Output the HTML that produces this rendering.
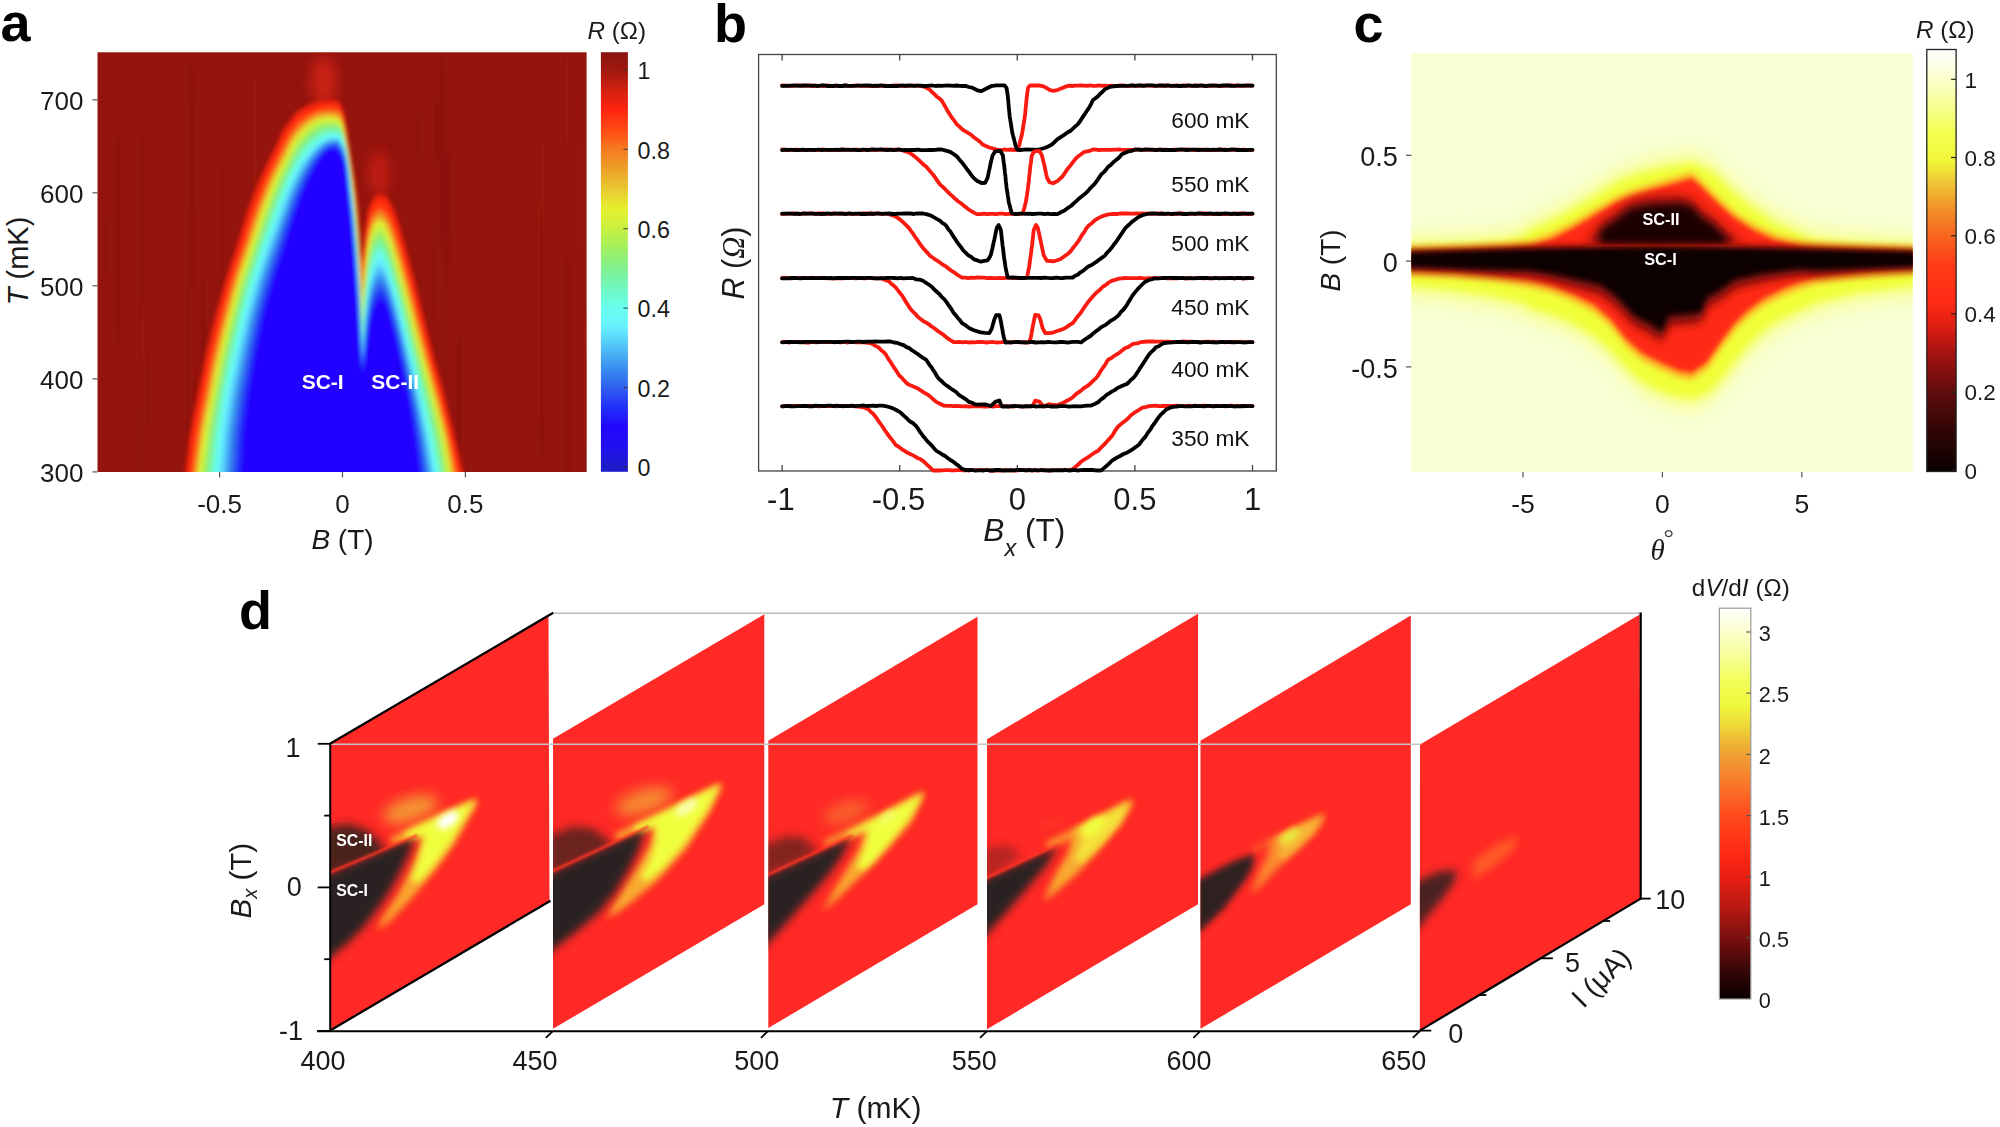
<!DOCTYPE html>
<html lang="en"><head><meta charset="utf-8"><title>Figure</title>
<style>
html,body{margin:0;padding:0;background:#fff;}
svg{display:block;font-family:'Liberation Sans', Arial, sans-serif;}
</style></head><body>
<svg width="2000" height="1127" viewBox="0 0 2000 1127">
<defs>
<clipPath id="clipA"><rect x="97.5" y="52.3" width="489.1" height="419.7"/></clipPath>
<filter id="blA" x="-10%" y="-10%" width="120%" height="120%"><feGaussianBlur stdDeviation="2.2"/></filter>
<filter id="blA1" x="-5%" y="-5%" width="110%" height="110%"><feGaussianBlur stdDeviation="1.2 6"/></filter>
<filter id="blA2" x="-30%" y="-30%" width="160%" height="160%"><feGaussianBlur stdDeviation="7"/></filter>
<linearGradient id="gradA" x1="0" y1="0" x2="0" y2="1"><stop offset="0.0043" stop-color="#8c1410"/><stop offset="0.0422" stop-color="#a01810"/><stop offset="0.0895" stop-color="#d02010"/><stop offset="0.1368" stop-color="#ff2410"/><stop offset="0.1841" stop-color="#ff4a14"/><stop offset="0.2314" stop-color="#f57a20"/><stop offset="0.2787" stop-color="#eda028"/><stop offset="0.3260" stop-color="#e8c830"/><stop offset="0.3733" stop-color="#e6f030"/><stop offset="0.4206" stop-color="#c8f040"/><stop offset="0.4679" stop-color="#a0f060"/><stop offset="0.5153" stop-color="#80f090"/><stop offset="0.5626" stop-color="#70f8c0"/><stop offset="0.6099" stop-color="#68fff0"/><stop offset="0.6572" stop-color="#66f0ff"/><stop offset="0.7045" stop-color="#50c0f8"/><stop offset="0.7518" stop-color="#3890f0"/><stop offset="0.7991" stop-color="#3060f0"/><stop offset="0.8464" stop-color="#2030f8"/><stop offset="0.8937" stop-color="#2206ff"/><stop offset="0.9410" stop-color="#2010f0"/><stop offset="0.9883" stop-color="#1c1cc8"/></linearGradient>
<clipPath id="clipC"><rect x="1411.4" y="53.2" width="501.3" height="418.8"/></clipPath>
<filter id="blC0" x="-10%" y="-30%" width="120%" height="160%"><feGaussianBlur stdDeviation="8"/></filter>
<filter id="blC1" x="-10%" y="-30%" width="120%" height="160%"><feGaussianBlur stdDeviation="4.5"/></filter>
<filter id="blC5" x="-10%" y="-30%" width="120%" height="160%"><feGaussianBlur stdDeviation="5"/></filter>
<filter id="blC6" x="-10%" y="-30%" width="120%" height="160%"><feGaussianBlur stdDeviation="2.4"/></filter>
<filter id="blC7" x="-10%" y="-300%" width="120%" height="700%"><feGaussianBlur stdDeviation="0.8"/></filter>
<filter id="blC2" x="-10%" y="-30%" width="120%" height="160%"><feGaussianBlur stdDeviation="3"/></filter>
<filter id="blC3" x="-10%" y="-30%" width="120%" height="160%"><feGaussianBlur stdDeviation="2.2"/></filter>
<filter id="blC4" x="-10%" y="-30%" width="120%" height="160%"><feGaussianBlur stdDeviation="1.6"/></filter>
<linearGradient id="gradC" x1="0" y1="0" x2="0" y2="1"><stop offset="0.0002" stop-color="#ffffff"/><stop offset="0.0706" stop-color="#faffcc"/><stop offset="0.1355" stop-color="#f6ff90"/><stop offset="0.2003" stop-color="#f2ff4c"/><stop offset="0.2652" stop-color="#f0f63a"/><stop offset="0.3115" stop-color="#eec834"/><stop offset="0.3671" stop-color="#f09a2a"/><stop offset="0.4412" stop-color="#f8641e"/><stop offset="0.5154" stop-color="#ff3a16"/><stop offset="0.5987" stop-color="#ff2a14"/><stop offset="0.6543" stop-color="#e01e12"/><stop offset="0.7192" stop-color="#a41410"/><stop offset="0.8118" stop-color="#600c0c"/><stop offset="0.9045" stop-color="#300606"/><stop offset="0.9972" stop-color="#0c0000"/></linearGradient>
<filter id="dB2" x="-40%" y="-40%" width="180%" height="180%"><feGaussianBlur stdDeviation="2.2"/></filter>
<filter id="dB4" x="-40%" y="-40%" width="180%" height="180%"><feGaussianBlur stdDeviation="4.0"/></filter>
<filter id="dB3" x="-40%" y="-40%" width="180%" height="180%"><feGaussianBlur stdDeviation="3.2"/></filter>
<filter id="dB5" x="-40%" y="-40%" width="180%" height="180%"><feGaussianBlur stdDeviation="5"/></filter>
<filter id="dB7" x="-40%" y="-40%" width="180%" height="180%"><feGaussianBlur stdDeviation="7"/></filter>
<filter id="dB1" x="-40%" y="-40%" width="180%" height="180%"><feGaussianBlur stdDeviation="1.2"/></filter>
<clipPath id="clipD0"><polygon points="330.4,743.5 548.5,614.6 549.5,901.3 330.2,1030.5"/></clipPath>
<clipPath id="clipDb0"><polygon points="268.5,898.7 716.3,707.4 716.3,1200.0 268.5,1200.0"/></clipPath>
<clipPath id="clipDa0"><polygon points="268.5,898.7 716.3,707.4 716.3,500.0 268.5,500.0"/></clipPath>
<clipPath id="clipD1"><polygon points="553.0,738.8 764.3,614.3 764.3,904.3 553.0,1028.8"/></clipPath>
<clipPath id="clipDb1"><polygon points="491.4,899.6 947.6,686.6 947.6,1200.0 491.4,1200.0"/></clipPath>
<clipPath id="clipDa1"><polygon points="491.4,899.6 947.6,686.6 947.6,500.0 491.4,500.0"/></clipPath>
<clipPath id="clipD2"><polygon points="768.3,740.8 977.5,616.8 977.5,904.3 768.3,1028.0"/></clipPath>
<clipPath id="clipDb2"><polygon points="706.4,903.0 1152.0,696.8 1152.0,1200.0 706.4,1200.0"/></clipPath>
<clipPath id="clipDa2"><polygon points="706.4,903.0 1152.0,696.8 1152.0,500.0 706.4,500.0"/></clipPath>
<clipPath id="clipD3"><polygon points="987.0,739.3 1198.0,613.8 1198.0,904.3 987.0,1029.3"/></clipPath>
<clipPath id="clipDb3"><polygon points="925.3,906.2 1357.1,706.3 1357.1,1200.0 925.3,1200.0"/></clipPath>
<clipPath id="clipDa3"><polygon points="925.3,906.2 1357.1,706.3 1357.1,500.0 925.3,500.0"/></clipPath>
<clipPath id="clipD4"><polygon points="1200.5,740.8 1410.8,615.5 1410.8,904.3 1200.5,1028.8"/></clipPath>
<clipPath id="clipD5"><polygon points="1420.0,744.4 1639.7,614.5 1640.5,898.8 1419.8,1030.3"/></clipPath>
<linearGradient id="gradD" x1="0" y1="0" x2="0" y2="1"><stop offset="0.0000" stop-color="#ffffff"/><stop offset="0.0608" stop-color="#fbffcc"/><stop offset="0.1234" stop-color="#f7ff98"/><stop offset="0.1860" stop-color="#f2ff58"/><stop offset="0.2486" stop-color="#f0f83c"/><stop offset="0.3112" stop-color="#eed038"/><stop offset="0.3738" stop-color="#f0a032"/><stop offset="0.4521" stop-color="#f8762a"/><stop offset="0.5304" stop-color="#ff4a1c"/><stop offset="0.6243" stop-color="#ff2a14"/><stop offset="0.6869" stop-color="#e81e10"/><stop offset="0.7652" stop-color="#b81a12"/><stop offset="0.8435" stop-color="#7a100e"/><stop offset="0.9217" stop-color="#3a0606"/><stop offset="1.0000" stop-color="#0a0000"/></linearGradient>
</defs>
<rect x="0" y="0" width="2000" height="1127" fill="#ffffff"/>
<g id="panel-a">
<rect x="97.5" y="52.3" width="489.1" height="419.7" fill="#94140e"/>
<g clip-path="url(#clipA)" filter="url(#blA1)">
<rect x="318.8" y="384.7" width="2.1" height="148" fill="#5a0806" opacity="0.17"/>
<rect x="187.8" y="278.9" width="2.0" height="217" fill="#5a0806" opacity="0.14"/>
<rect x="141.8" y="301.7" width="2.6" height="59" fill="#c02818" opacity="0.22"/>
<rect x="417.3" y="109.0" width="2.2" height="53" fill="#5a0806" opacity="0.11"/>
<rect x="190.5" y="63.1" width="1.5" height="147" fill="#5a0806" opacity="0.20"/>
<rect x="351.4" y="232.1" width="2.3" height="189" fill="#5a0806" opacity="0.13"/>
<rect x="585.5" y="354.5" width="3.0" height="199" fill="#5a0806" opacity="0.13"/>
<rect x="238.9" y="327.9" width="1.1" height="134" fill="#c02818" opacity="0.15"/>
<rect x="566.1" y="52.5" width="2.7" height="94" fill="#c02818" opacity="0.16"/>
<rect x="577.0" y="78.6" width="1.8" height="182" fill="#c02818" opacity="0.13"/>
<rect x="140.1" y="399.1" width="1.7" height="209" fill="#5a0806" opacity="0.13"/>
<rect x="146.9" y="339.0" width="1.1" height="87" fill="#5a0806" opacity="0.15"/>
<rect x="190.8" y="99.4" width="2.5" height="185" fill="#5a0806" opacity="0.15"/>
<rect x="201.6" y="401.5" width="1.5" height="219" fill="#5a0806" opacity="0.21"/>
<rect x="200.6" y="359.6" width="1.8" height="185" fill="#5a0806" opacity="0.22"/>
<rect x="201.8" y="330.2" width="1.5" height="119" fill="#5a0806" opacity="0.11"/>
<rect x="141.6" y="139.7" width="2.2" height="176" fill="#5a0806" opacity="0.15"/>
<rect x="566.6" y="259.0" width="2.0" height="232" fill="#5a0806" opacity="0.12"/>
<rect x="541.8" y="142.0" width="2.6" height="90" fill="#c02818" opacity="0.21"/>
<rect x="193.7" y="369.6" width="2.9" height="177" fill="#5a0806" opacity="0.11"/>
<rect x="116.4" y="138.1" width="2.9" height="198" fill="#5a0806" opacity="0.20"/>
<rect x="389.2" y="115.4" width="1.6" height="201" fill="#5a0806" opacity="0.13"/>
<rect x="371.1" y="273.3" width="2.7" height="109" fill="#c02818" opacity="0.12"/>
<rect x="105.6" y="212.6" width="1.5" height="63" fill="#5a0806" opacity="0.14"/>
<rect x="377.3" y="182.6" width="1.3" height="237" fill="#c02818" opacity="0.18"/>
<rect x="435.6" y="102.8" width="2.2" height="57" fill="#5a0806" opacity="0.21"/>
<rect x="440.3" y="59.9" width="2.9" height="184" fill="#5a0806" opacity="0.19"/>
<rect x="253.5" y="79.4" width="3.0" height="165" fill="#c02818" opacity="0.21"/>
<rect x="458.0" y="337.6" width="2.4" height="242" fill="#5a0806" opacity="0.18"/>
<rect x="538.1" y="202.3" width="2.7" height="216" fill="#c02818" opacity="0.17"/>
<rect x="403.2" y="261.9" width="1.8" height="178" fill="#5a0806" opacity="0.18"/>
<rect x="583.3" y="314.2" width="2.8" height="132" fill="#c02818" opacity="0.17"/>
<rect x="313.0" y="82.4" width="2.7" height="208" fill="#5a0806" opacity="0.17"/>
<rect x="332.7" y="303.5" width="1.5" height="154" fill="#5a0806" opacity="0.21"/>
<rect x="222.6" y="160.6" width="1.0" height="192" fill="#5a0806" opacity="0.12"/>
<rect x="540.5" y="211.3" width="2.3" height="237" fill="#5a0806" opacity="0.18"/>
<rect x="194.6" y="342.2" width="1.9" height="242" fill="#c02818" opacity="0.15"/>
<rect x="382.7" y="101.3" width="1.6" height="154" fill="#c02818" opacity="0.20"/>
<rect x="445.4" y="151.9" width="2.9" height="86" fill="#5a0806" opacity="0.13"/>
<rect x="202.2" y="277.4" width="1.8" height="154" fill="#5a0806" opacity="0.20"/>
<rect x="577.8" y="79.2" width="1.9" height="57" fill="#c02818" opacity="0.10"/>
<rect x="444.1" y="163.5" width="2.1" height="216" fill="#5a0806" opacity="0.12"/>
<rect x="320.0" y="350.7" width="1.0" height="100" fill="#5a0806" opacity="0.11"/>
<rect x="405.2" y="278.9" width="1.9" height="188" fill="#c02818" opacity="0.22"/>
<rect x="432.3" y="223.2" width="1.4" height="88" fill="#5a0806" opacity="0.16"/>
<rect x="446.8" y="150.3" width="1.4" height="123" fill="#5a0806" opacity="0.16"/>
</g>
<g clip-path="url(#clipA)">
<g filter="url(#blA2)" opacity="0.8">
<ellipse cx="323.7" cy="82.4" rx="13.0" ry="26.7" fill="#d82616"/>
<ellipse cx="379.0" cy="174.0" rx="9.9" ry="22.9" fill="#d02414"/>
</g>
<g filter="url(#blA)">
<polygon points="183.6,481.3 185.3,470.3 186.7,459.2 188.0,448.1 189.4,437.1 191.2,426.1 193.4,415.1 195.6,404.2 197.8,393.3 199.9,382.3 202.1,371.4 204.3,360.4 206.8,349.6 209.5,338.7 212.2,327.9 214.9,317.1 217.9,306.4 220.9,295.6 223.9,284.9 227.2,274.2 230.8,263.6 234.3,253.1 237.7,242.4 240.9,231.8 244.1,221.1 247.3,210.4 251.3,200.0 255.4,189.6 259.4,179.2 264.1,169.1 269.1,159.1 274.0,149.1 278.6,139.0 283.3,128.8 290.0,119.9 296.9,111.1 306.6,105.6 316.9,101.8 327.8,99.8 338.9,100.8 338.9,100.8 342.3,107.2 344.4,114.0 345.4,121.1 346.4,128.3 347.4,135.4 348.4,142.6 349.6,149.7 350.7,156.8 351.9,164.0 353.0,171.1 354.2,178.2 355.3,185.3 356.2,192.5 357.0,199.7 357.8,206.9 358.4,214.1 358.9,221.3 359.4,228.5 359.9,235.7 360.3,242.9 360.8,250.1 361.3,257.3 361.8,264.5 361.8,264.5 362.3,258.7 362.9,252.9 363.4,247.1 363.9,241.2 364.4,235.4 365.0,229.6 365.8,223.8 366.6,218.1 367.5,212.3 368.9,206.7 371.1,201.2 374.4,196.7 379.0,193.1 379.0,193.1 387.1,196.4 391.5,203.5 395.0,211.5 397.8,219.7 400.2,228.1 402.6,236.5 404.9,244.8 407.3,253.2 409.6,261.6 411.9,270.0 414.2,278.5 416.3,286.9 418.4,295.4 420.5,303.8 422.6,312.3 424.7,320.7 426.9,329.2 429.0,337.7 431.1,346.1 433.3,354.5 435.6,362.9 437.9,371.3 440.3,379.7 442.6,388.2 444.7,396.6 446.8,405.1 448.9,413.5 451.0,422.0 453.1,430.4 455.2,438.9 457.4,447.3 459.4,455.8 461.3,464.3 463.2,472.8 465.3,481.3" fill="#e32210"/>
<polygon points="185.7,481.3 187.3,470.4 188.7,459.4 190.1,448.4 191.5,437.5 193.2,426.6 195.4,415.7 197.6,404.9 199.7,394.0 201.9,383.2 204.1,372.3 206.2,361.5 208.7,350.7 211.3,340.0 214.0,329.3 216.7,318.5 219.6,307.9 222.6,297.2 225.6,286.6 228.7,276.0 232.2,265.5 235.8,255.0 239.1,244.5 242.4,233.9 245.6,223.4 248.8,212.8 252.8,202.5 256.7,192.1 260.7,181.8 265.3,171.8 270.1,161.8 275.0,151.9 279.7,141.9 284.3,131.9 290.8,122.9 297.6,114.2 307.0,108.5 317.1,104.4 327.9,102.5 338.9,103.5 338.9,103.5 342.4,110.1 344.4,117.1 345.5,124.5 346.6,131.8 347.7,139.2 348.8,146.5 349.9,153.9 351.1,161.2 352.2,168.6 353.3,175.9 354.4,183.3 355.5,190.6 356.4,198.0 357.1,205.4 357.9,212.8 358.5,220.2 359.0,227.6 359.5,235.0 360.0,242.5 360.4,249.9 360.9,257.3 361.4,264.7 361.9,272.1 361.9,272.1 362.4,266.1 362.9,260.0 363.4,254.0 363.9,247.9 364.4,241.8 365.0,235.8 365.8,229.8 366.7,223.7 367.5,217.7 369.0,211.8 371.1,206.1 374.3,201.2 379.0,197.4 379.0,197.4 386.8,200.8 390.9,208.0 394.4,215.8 397.1,223.9 399.5,232.2 401.8,240.4 404.1,248.7 406.4,256.9 408.7,265.2 411.0,273.5 413.2,281.7 415.3,290.1 417.4,298.4 419.5,306.7 421.6,315.0 423.7,323.3 425.8,331.6 427.9,339.9 430.0,348.3 432.2,356.5 434.5,364.8 436.8,373.1 439.1,381.3 441.3,389.6 443.4,397.9 445.5,406.2 447.6,414.6 449.7,422.9 451.7,431.2 453.7,439.5 455.7,447.9 457.7,456.2 459.5,464.6 461.4,473.0 463.3,481.3" fill="#ff2c11"/>
<polygon points="189.6,481.3 191.1,470.5 192.5,459.8 194.0,449.0 195.4,438.2 197.1,427.5 199.2,416.8 201.3,406.2 203.5,395.5 205.6,384.8 207.7,374.2 209.9,363.5 212.2,352.9 214.8,342.3 217.4,331.8 220.0,321.2 222.9,310.7 225.7,300.3 228.6,289.8 231.7,279.4 235.0,269.0 238.5,258.7 241.9,248.4 245.2,238.0 248.4,227.7 251.7,217.3 255.4,207.1 259.3,196.9 263.2,186.8 267.4,176.8 272.1,167.0 276.9,157.2 281.6,147.4 286.2,137.6 292.2,128.6 299.0,120.1 307.8,113.9 317.5,109.4 328.2,107.5 338.9,108.8 338.9,108.8 342.6,115.6 344.6,123.1 345.9,130.8 347.1,138.6 348.3,146.3 349.5,154.1 350.6,161.8 351.7,169.6 352.8,177.3 353.8,185.1 354.8,192.8 355.9,200.6 356.7,208.4 357.4,216.2 358.1,224.0 358.7,231.8 359.2,239.6 359.7,247.4 360.2,255.3 360.6,263.1 361.0,270.9 361.5,278.7 362.0,286.6 362.0,286.6 362.4,280.0 362.9,273.5 363.3,267.0 363.8,260.4 364.4,253.9 365.1,247.4 365.9,240.9 366.7,234.4 367.6,227.9 369.2,221.6 371.3,215.4 374.1,209.8 379.0,205.5 379.0,205.5 386.3,209.2 390.0,216.4 393.2,224.1 395.8,231.9 398.1,239.9 400.4,247.9 402.7,255.9 404.9,263.9 407.1,271.9 409.3,279.9 411.5,287.9 413.5,296.0 415.5,304.0 417.6,312.1 419.6,320.1 421.7,328.2 423.8,336.2 425.9,344.3 427.9,352.3 430.1,360.3 432.3,368.3 434.5,376.3 436.8,384.3 438.9,392.3 441.0,400.4 443.0,408.5 445.1,416.5 447.1,424.6 449.1,432.6 450.9,440.7 452.7,448.8 454.5,456.9 456.2,465.1 457.9,473.2 459.7,481.3" fill="#ff4a14"/>
<polygon points="191.7,481.3 193.2,470.6 194.6,460.0 196.0,449.3 197.5,438.6 199.1,428.0 201.3,417.4 203.4,406.8 205.5,396.3 207.6,385.7 209.7,375.2 211.8,364.6 214.1,354.1 216.6,343.6 219.2,333.1 221.8,322.7 224.6,312.3 227.4,301.9 230.3,291.5 233.3,281.2 236.4,270.9 239.9,260.7 243.4,250.5 246.7,240.2 250.0,230.0 253.2,219.7 256.8,209.6 260.6,199.5 264.5,189.4 268.6,179.5 273.2,169.7 277.9,160.1 282.6,150.4 287.3,140.7 292.9,131.6 299.7,123.2 308.2,116.8 317.7,112.0 328.3,110.2 338.9,111.6 338.9,111.6 342.7,118.6 344.6,126.3 346.0,134.2 347.3,142.2 348.6,150.1 349.8,158.1 350.9,166.0 352.0,174.0 353.1,182.0 354.1,190.0 355.1,198.0 356.0,205.9 356.9,213.9 357.5,222.0 358.2,230.0 358.8,238.0 359.3,246.0 359.9,254.1 360.3,262.1 360.7,270.1 361.1,278.2 361.6,286.2 362.0,294.2 362.0,294.2 362.5,287.5 362.9,280.7 363.3,273.9 363.8,267.1 364.4,260.4 365.1,253.6 365.9,246.9 366.8,240.1 367.7,233.4 369.4,226.8 371.3,220.3 374.0,214.3 379.0,209.8 379.0,209.8 386.0,213.7 389.4,220.9 392.5,228.5 395.1,236.2 397.4,244.0 399.7,251.9 401.9,259.7 404.1,267.6 406.2,275.5 408.4,283.3 410.5,291.2 412.5,299.1 414.5,307.1 416.5,315.0 418.5,322.9 420.6,330.8 422.7,338.7 424.8,346.6 426.9,354.5 429.0,362.3 431.2,370.2 433.3,378.1 435.5,385.9 437.7,393.8 439.7,401.7 441.7,409.6 443.7,417.5 445.7,425.5 447.7,433.4 449.4,441.4 451.1,449.3 452.8,457.3 454.4,465.3 456.0,473.3 457.8,481.3" fill="#f7701e"/>
<polygon points="193.2,481.3 194.6,470.7 196.1,460.1 197.5,449.5 198.9,438.9 200.6,428.3 202.7,417.8 204.8,407.3 206.9,396.8 209.0,386.3 211.1,375.8 213.2,365.4 215.4,354.9 217.9,344.5 220.5,334.1 223.1,323.7 225.8,313.4 228.6,303.0 231.4,292.7 234.4,282.4 237.5,272.2 241.0,262.1 244.4,251.9 247.8,241.8 251.0,231.6 254.3,221.4 257.9,211.3 261.6,201.3 265.4,191.3 269.4,181.4 273.9,171.7 278.6,162.1 283.3,152.5 288.0,142.8 293.4,133.7 300.3,125.5 308.5,118.9 317.9,113.9 328.4,112.1 338.9,113.6 338.9,113.6 342.8,120.6 344.7,128.6 346.2,136.6 347.5,144.7 348.9,152.8 350.1,160.9 351.2,169.0 352.3,177.2 353.3,185.3 354.3,193.4 355.2,201.6 356.2,209.7 357.0,217.9 357.6,226.0 358.3,234.2 358.9,242.4 359.4,250.6 359.9,258.8 360.4,267.0 360.8,275.1 361.2,283.3 361.6,291.5 362.1,299.7 362.1,299.7 362.5,292.7 362.9,285.8 363.3,278.8 363.7,271.9 364.4,264.9 365.1,258.0 365.9,251.1 366.8,244.2 367.7,237.3 369.4,230.5 371.4,223.8 373.9,217.6 379.0,212.8 379.0,212.8 385.8,216.9 389.1,224.1 392.1,231.6 394.6,239.2 396.9,247.0 399.1,254.7 401.3,262.5 403.5,270.2 405.6,278.0 407.8,285.8 409.8,293.6 411.8,301.4 413.8,309.2 415.8,317.0 417.8,324.8 419.8,332.6 421.9,340.4 424.0,348.2 426.1,356.0 428.2,363.8 430.3,371.5 432.5,379.3 434.7,387.1 436.8,394.8 438.8,402.7 440.8,410.5 442.8,418.3 444.8,426.1 446.7,433.9 448.3,441.8 450.0,449.7 451.6,457.6 453.1,465.5 454.7,473.4 456.4,481.3" fill="#f09125"/>
<polygon points="194.6,481.3 196.0,470.8 197.5,460.2 198.9,449.7 200.4,439.2 202.0,428.7 204.1,418.2 206.2,407.8 208.3,397.4 210.3,386.9 212.4,376.5 214.5,366.1 216.7,355.7 219.2,345.3 221.7,335.0 224.3,324.7 227.0,314.4 229.8,304.2 232.6,293.9 235.4,283.7 238.5,273.5 242.0,263.4 245.4,253.4 248.8,243.3 252.1,233.2 255.3,223.1 258.8,213.0 262.5,203.0 266.3,193.1 270.2,183.2 274.6,173.6 279.3,164.0 284.0,154.5 288.7,144.9 294.0,135.8 300.8,127.6 308.8,120.8 318.0,115.7 328.5,113.9 338.9,115.5 338.9,115.5 342.8,122.7 344.7,130.8 346.3,139.0 347.7,147.2 349.1,155.4 350.3,163.7 351.4,171.9 352.5,180.2 353.5,188.5 354.5,196.8 355.4,205.1 356.3,213.4 357.1,221.7 357.7,230.0 358.4,238.3 359.0,246.6 359.5,255.0 360.0,263.3 360.4,271.6 360.8,280.0 361.3,288.3 361.7,296.6 362.1,305.0 362.1,305.0 362.5,297.8 362.9,290.7 363.3,283.6 363.7,276.5 364.4,269.4 365.1,262.3 366.0,255.2 366.8,248.1 367.8,241.0 369.5,234.1 371.4,227.2 373.8,220.7 379.0,215.8 379.0,215.8 385.6,220.0 388.7,227.2 391.6,234.6 394.1,242.2 396.4,249.8 398.6,257.4 400.8,265.1 402.9,272.8 405.0,280.5 407.1,288.1 409.2,295.8 411.2,303.5 413.1,311.3 415.1,319.0 417.0,326.7 419.1,334.4 421.2,342.1 423.3,349.8 425.3,357.5 427.4,365.2 429.6,372.8 431.7,380.5 433.8,388.2 435.9,395.9 437.9,403.6 439.9,411.3 441.9,419.0 443.8,426.7 445.8,434.4 447.3,442.3 448.9,450.1 450.4,457.9 451.9,465.7 453.4,473.5 455.1,481.3" fill="#ebb02b"/>
<polygon points="195.9,481.3 197.2,470.8 198.7,460.3 200.2,449.9 201.6,439.4 203.3,429.0 205.3,418.6 207.4,408.2 209.5,397.9 211.6,387.5 213.6,377.1 215.7,366.7 217.8,356.4 220.3,346.1 222.9,335.9 225.4,325.6 228.0,315.4 230.8,305.2 233.6,294.9 236.4,284.8 239.4,274.6 242.9,264.6 246.3,254.6 249.7,244.6 253.0,234.6 256.3,224.5 259.7,214.5 263.3,204.6 267.1,194.7 270.9,184.9 275.3,175.2 280.0,165.8 284.6,156.3 289.3,146.8 294.4,137.6 301.2,129.5 309.1,122.6 318.1,117.3 328.5,115.5 338.9,117.2 338.9,117.2 342.9,124.5 344.7,132.7 346.4,141.0 347.8,149.4 349.3,157.7 350.5,166.1 351.6,174.5 352.7,182.9 353.7,191.3 354.6,199.8 355.5,208.2 356.4,216.6 357.2,225.1 357.8,233.5 358.5,242.0 359.0,250.4 359.6,258.9 360.1,267.3 360.5,275.8 360.9,284.3 361.3,292.7 361.7,301.2 362.1,309.7 362.1,309.7 362.5,302.4 362.9,295.1 363.3,287.8 363.7,280.6 364.4,273.3 365.1,266.0 366.0,258.8 366.8,251.6 367.8,244.3 369.6,237.3 371.5,230.2 373.8,223.5 379.0,218.4 379.0,218.4 385.4,222.8 388.4,229.9 391.2,237.3 393.7,244.8 395.9,252.3 398.2,259.9 400.3,267.4 402.4,275.0 404.5,282.6 406.6,290.2 408.6,297.8 410.6,305.5 412.5,313.1 414.4,320.7 416.4,328.4 418.4,336.0 420.5,343.6 422.6,351.2 424.7,358.8 426.7,366.4 428.8,374.0 431.0,381.6 433.1,389.2 435.2,396.7 437.2,404.4 439.1,412.0 441.0,419.6 443.0,427.3 444.9,434.9 446.4,442.6 447.9,450.4 449.4,458.1 450.8,465.9 452.3,473.6 453.9,481.3" fill="#e8d030"/>
<polygon points="197.2,481.3 198.5,470.9 200.0,460.5 201.4,450.0 202.9,439.6 204.5,429.3 206.6,418.9 208.6,408.6 210.7,398.3 212.8,388.0 214.8,377.7 216.9,367.4 219.0,357.1 221.4,346.9 224.0,336.7 226.5,326.5 229.1,316.3 231.8,306.1 234.6,296.0 237.4,285.9 240.3,275.8 243.8,265.8 247.2,255.9 250.6,246.0 253.9,236.0 257.2,226.0 260.6,216.1 264.2,206.2 267.9,196.3 271.6,186.5 275.9,176.9 280.6,167.5 285.3,158.1 289.9,148.7 294.9,139.4 301.7,131.4 309.3,124.4 318.2,118.9 328.6,117.2 338.9,118.9 338.9,118.9 343.0,126.3 344.8,134.7 346.5,143.1 348.0,151.6 349.5,160.0 350.7,168.6 351.8,177.1 352.9,185.6 353.9,194.2 354.8,202.7 355.7,211.3 356.5,219.9 357.3,228.4 357.9,237.0 358.5,245.6 359.1,254.2 359.7,262.8 360.2,271.4 360.6,280.0 360.9,288.6 361.4,297.2 361.8,305.8 362.2,314.4 362.2,314.4 362.6,306.9 362.9,299.5 363.3,292.1 363.7,284.6 364.4,277.2 365.2,269.8 366.0,262.4 366.8,255.0 367.8,247.7 369.7,240.5 371.5,233.3 373.7,226.3 379.0,221.0 379.0,221.0 385.2,225.5 388.1,232.7 390.9,240.0 393.2,247.4 395.5,254.8 397.7,262.3 399.8,269.8 401.9,277.3 404.0,284.8 406.0,292.3 408.0,299.9 410.0,307.4 411.9,315.0 413.8,322.5 415.7,330.1 417.8,337.6 419.9,345.1 421.9,352.6 424.0,360.1 426.1,367.6 428.1,375.1 430.2,382.6 432.3,390.1 434.4,397.6 436.4,405.2 438.3,412.7 440.2,420.3 442.1,427.8 444.0,435.4 445.5,443.0 446.9,450.7 448.3,458.3 449.7,466.0 451.2,473.7 452.7,481.3" fill="#e6f030"/>
<polygon points="198.5,481.3 199.7,470.9 201.2,460.6 202.7,450.2 204.2,439.9 205.8,429.6 207.8,419.3 209.9,409.1 211.9,398.8 214.0,388.6 216.0,378.3 218.1,368.1 220.1,357.8 222.5,347.6 225.1,337.5 227.6,327.4 230.1,317.2 232.9,307.1 235.6,297.0 238.3,287.0 241.2,276.9 244.6,267.0 248.1,257.2 251.5,247.3 254.8,237.4 258.1,227.5 261.4,217.6 265.0,207.7 268.7,197.9 272.3,188.2 276.5,178.6 281.2,169.3 285.9,159.9 290.6,150.6 295.3,141.3 302.1,133.3 309.6,126.2 318.4,120.5 328.7,118.8 338.9,120.6 338.9,120.6 343.0,128.1 344.8,136.6 346.6,145.2 348.1,153.8 349.7,162.4 351.0,171.0 352.0,179.7 353.1,188.4 354.0,197.0 355.0,205.7 355.8,214.4 356.6,223.1 357.4,231.8 358.0,240.6 358.6,249.3 359.2,258.0 359.7,266.7 360.2,275.4 360.6,284.2 361.0,292.9 361.4,301.6 361.8,310.4 362.2,319.1 362.2,319.1 362.6,311.5 362.9,303.9 363.3,296.3 363.6,288.7 364.3,281.2 365.2,273.6 366.0,266.1 366.9,258.5 367.9,251.0 369.7,243.6 371.6,236.3 373.6,229.0 379.0,223.7 379.0,223.7 385.0,228.2 387.7,235.5 390.5,242.7 392.8,250.0 395.0,257.4 397.2,264.7 399.4,272.2 401.4,279.6 403.4,287.0 405.5,294.4 407.5,301.9 409.4,309.3 411.3,316.8 413.2,324.3 415.1,331.7 417.1,339.2 419.2,346.6 421.3,354.0 423.3,361.4 425.4,368.8 427.4,376.3 429.5,383.7 431.6,391.1 433.6,398.5 435.6,406.0 437.5,413.4 439.4,420.9 441.3,428.4 443.2,435.8 444.5,443.4 445.9,451.0 447.3,458.6 448.6,466.2 450.0,473.7 451.5,481.3" fill="#cef03d"/>
<polygon points="201.3,481.3 202.5,471.0 203.9,460.8 205.2,450.5 206.6,440.3 208.1,430.1 210.1,419.9 212.0,409.8 214.0,399.6 215.9,389.4 218.0,379.3 220.0,369.2 222.1,359.0 224.5,349.0 226.9,338.9 229.4,328.9 231.9,318.9 234.5,308.9 237.2,298.9 239.9,288.9 242.8,279.0 246.1,269.2 249.5,259.4 252.9,249.6 256.2,239.8 259.5,230.0 262.8,220.2 266.3,210.5 269.9,200.8 273.6,191.1 277.7,181.7 282.1,172.3 286.7,163.1 291.4,153.8 296.1,144.7 302.8,136.8 310.1,129.6 318.6,123.8 328.7,121.7 338.8,123.1 338.8,123.1 343.2,130.5 345.0,139.2 346.8,147.9 348.3,156.7 349.7,165.4 350.9,174.2 352.0,183.0 353.1,191.8 354.0,200.6 354.9,209.5 355.8,218.3 356.5,227.1 357.3,236.0 357.9,244.8 358.6,253.7 359.1,262.5 359.7,271.4 360.2,280.3 360.6,289.1 361.0,298.0 361.4,306.8 361.8,315.7 362.2,324.6 362.2,324.6 362.6,317.0 363.0,309.4 363.3,301.8 363.7,294.2 364.4,286.6 365.3,279.0 366.1,271.5 367.0,263.9 368.0,256.4 369.8,249.0 371.6,241.6 373.8,234.4 379.0,228.9 379.0,228.9 384.8,233.5 387.5,240.5 390.2,247.5 392.5,254.7 394.6,261.9 396.8,269.2 398.9,276.4 400.9,283.7 402.9,291.0 404.8,298.2 406.7,305.5 408.6,312.8 410.5,320.1 412.3,327.5 414.2,334.8 416.2,342.0 418.1,349.3 420.1,356.6 422.1,363.9 424.1,371.1 426.1,378.4 428.1,385.7 430.0,393.0 432.0,400.2 433.9,407.5 435.7,414.8 437.6,422.2 439.4,429.5 441.2,436.8 442.5,444.2 443.9,451.6 445.2,459.1 446.5,466.5 447.9,473.9 449.3,481.3" fill="#b0f053"/>
<polygon points="204.1,481.3 205.2,471.1 206.5,461.0 207.8,450.8 209.1,440.7 210.5,430.6 212.3,420.5 214.2,410.4 216.0,400.4 217.9,390.3 220.0,380.3 222.0,370.3 224.1,360.3 226.4,350.3 228.8,340.4 231.2,330.4 233.7,320.5 236.2,310.6 238.9,300.7 241.6,290.8 244.4,281.0 247.6,271.3 250.9,261.6 254.3,251.9 257.5,242.2 260.8,232.6 264.1,222.9 267.6,213.3 271.2,203.7 274.8,194.1 278.8,184.7 283.1,175.4 287.6,166.3 292.2,157.1 296.9,148.1 303.4,140.2 310.5,132.9 318.9,127.1 328.7,124.5 338.7,125.5 338.7,125.5 343.3,133.0 345.2,141.8 347.0,150.6 348.4,159.5 349.7,168.4 350.9,177.4 352.0,186.3 353.1,195.2 354.0,204.2 354.9,213.2 355.7,222.2 356.5,231.1 357.2,240.1 357.9,249.1 358.5,258.1 359.1,267.1 359.7,276.1 360.2,285.1 360.6,294.1 361.0,303.1 361.4,312.1 361.8,321.1 362.2,330.1 362.2,330.1 362.6,322.5 363.0,314.8 363.4,307.2 363.8,299.6 364.5,292.0 365.4,284.4 366.2,276.9 367.1,269.3 368.2,261.7 369.9,254.3 371.7,246.9 373.9,239.7 379.0,234.0 379.0,234.0 384.6,238.7 387.3,245.5 389.8,252.4 392.1,259.4 394.2,266.5 396.4,273.6 398.4,280.7 400.4,287.8 402.3,294.9 404.2,302.0 406.0,309.2 407.9,316.3 409.7,323.5 411.5,330.6 413.3,337.8 415.2,344.9 417.1,352.0 419.0,359.2 420.9,366.3 422.8,373.4 424.7,380.5 426.6,387.7 428.5,394.8 430.4,401.9 432.2,409.1 434.0,416.2 435.7,423.4 437.5,430.6 439.2,437.8 440.5,445.0 441.8,452.3 443.1,459.5 444.4,466.8 445.8,474.0 447.1,481.3" fill="#93f073"/>
<polygon points="206.9,481.3 207.9,471.2 209.1,461.2 210.4,451.1 211.6,441.1 212.8,431.1 214.6,421.1 216.3,411.1 218.1,401.2 219.9,391.2 221.9,381.3 224.0,371.4 226.1,361.5 228.3,351.6 230.7,341.8 233.1,332.0 235.4,322.1 237.9,312.3 240.5,302.5 243.2,292.8 246.0,283.0 249.1,273.4 252.4,263.8 255.6,254.3 258.8,244.7 262.1,235.1 265.5,225.6 269.0,216.1 272.5,206.6 276.1,197.1 279.9,187.7 284.0,178.5 288.5,169.4 293.0,160.4 297.7,151.5 304.1,143.6 311.0,136.3 319.2,130.4 328.7,127.4 338.6,127.9 338.6,127.9 343.4,135.5 345.4,144.4 347.1,153.4 348.5,162.4 349.7,171.5 350.9,180.5 352.0,189.6 353.1,198.7 354.0,207.8 354.8,216.9 355.6,226.0 356.4,235.1 357.2,244.2 357.8,253.4 358.5,262.5 359.1,271.6 359.7,280.7 360.2,289.9 360.6,299.0 361.0,308.2 361.4,317.3 361.8,326.4 362.2,335.6 362.2,335.6 362.6,327.9 363.1,320.3 363.5,312.7 363.9,305.0 364.6,297.4 365.4,289.8 366.3,282.2 367.2,274.7 368.3,267.1 370.1,259.6 371.8,252.2 374.0,245.0 379.0,239.2 379.0,239.2 384.4,243.9 387.1,250.5 389.5,257.3 391.8,264.2 393.8,271.1 395.9,278.0 397.9,284.9 399.8,291.9 401.7,298.9 403.5,305.8 405.3,312.8 407.1,319.8 408.9,326.8 410.6,333.8 412.4,340.8 414.2,347.8 416.0,354.8 417.9,361.7 419.7,368.7 421.5,375.7 423.4,382.7 425.2,389.7 427.0,396.6 428.8,403.6 430.5,410.6 432.2,417.6 433.9,424.7 435.6,431.7 437.1,438.7 438.4,445.8 439.7,452.9 441.1,460.0 442.4,467.1 443.6,474.2 444.9,481.3" fill="#7df29a"/>
<polygon points="209.7,481.3 210.7,471.3 211.8,461.4 212.9,451.4 214.0,441.5 215.2,431.6 216.8,421.7 218.5,411.8 220.2,402.0 221.8,392.1 223.9,382.3 226.0,372.5 228.0,362.7 230.3,353.0 232.6,343.2 234.9,333.5 237.2,323.7 239.6,314.0 242.2,304.4 244.9,294.7 247.6,285.1 250.6,275.5 253.8,266.1 257.0,256.6 260.2,247.1 263.4,237.6 266.8,228.2 270.3,218.8 273.8,209.5 277.3,200.1 281.0,190.8 284.9,181.6 289.3,172.6 293.8,163.6 298.5,154.9 304.7,147.0 311.5,139.7 319.4,133.7 328.7,130.2 338.4,130.4 338.4,130.4 343.5,138.0 345.6,147.0 347.3,156.1 348.7,165.3 349.8,174.5 350.8,183.7 352.0,192.9 353.1,202.1 353.9,211.4 354.8,220.6 355.6,229.9 356.4,239.1 357.1,248.4 357.8,257.6 358.4,266.9 359.1,276.2 359.7,285.4 360.1,294.7 360.6,304.0 361.0,313.2 361.4,322.5 361.8,331.8 362.2,341.1 362.2,341.1 362.7,333.4 363.1,325.8 363.5,318.1 364.0,310.5 364.6,302.8 365.5,295.2 366.4,287.6 367.4,280.0 368.5,272.4 370.2,265.0 371.9,257.5 374.1,250.3 379.0,244.4 379.0,244.4 384.2,249.1 386.9,255.5 389.2,262.2 391.4,268.9 393.4,275.7 395.5,282.4 397.5,289.2 399.3,296.0 401.1,302.8 402.9,309.6 404.6,316.5 406.3,323.3 408.0,330.1 409.8,337.0 411.5,343.8 413.2,350.7 415.0,357.5 416.7,364.3 418.5,371.2 420.2,378.0 422.0,384.8 423.8,391.6 425.5,398.5 427.2,405.3 428.8,412.2 430.4,419.0 432.0,425.9 433.6,432.8 435.1,439.7 436.4,446.6 437.7,453.5 439.0,460.5 440.3,467.4 441.5,474.4 442.7,481.3" fill="#70f8c0"/>
<polygon points="212.5,481.3 213.4,471.4 214.4,461.6 215.5,451.8 216.5,441.9 217.6,432.1 219.1,422.3 220.7,412.5 222.2,402.8 223.8,393.0 225.8,383.3 227.9,373.6 230.0,363.9 232.2,354.3 234.4,344.7 236.7,335.0 239.0,325.4 241.2,315.7 243.9,306.2 246.5,296.7 249.2,287.1 252.0,277.7 255.2,268.3 258.4,258.9 261.5,249.5 264.8,240.2 268.2,230.9 271.6,221.6 275.1,212.3 278.6,203.1 282.2,193.8 285.8,184.7 290.2,175.8 294.6,166.9 299.3,158.3 305.4,150.4 312.0,143.1 319.7,137.0 328.7,133.1 338.3,132.8 338.3,132.8 343.7,140.5 345.8,149.6 347.5,158.8 348.8,168.2 349.8,177.5 350.8,186.9 352.0,196.2 353.1,205.6 353.9,215.0 354.7,224.4 355.5,233.7 356.3,243.1 357.0,252.5 357.7,261.9 358.4,271.3 359.0,280.7 359.6,290.1 360.1,299.5 360.6,308.9 361.1,318.3 361.4,327.7 361.8,337.2 362.2,346.6 362.2,346.6 362.7,338.9 363.1,331.2 363.6,323.6 364.1,315.9 364.7,308.3 365.6,300.6 366.6,293.0 367.5,285.4 368.6,277.8 370.3,270.3 371.9,262.8 374.2,255.6 379.0,249.6 379.0,249.6 384.0,254.3 386.7,260.6 388.9,267.1 391.1,273.6 393.0,280.2 395.0,286.8 397.0,293.4 398.8,300.1 400.5,306.8 402.2,313.4 403.9,320.1 405.6,326.8 407.2,333.5 408.9,340.2 410.5,346.9 412.2,353.5 413.9,360.2 415.6,366.9 417.3,373.6 419.0,380.3 420.6,386.9 422.3,393.6 424.0,400.3 425.6,407.0 427.1,413.7 428.6,420.4 430.2,427.2 431.7,433.9 433.1,440.6 434.4,447.4 435.6,454.2 436.9,460.9 438.2,467.7 439.4,474.5 440.5,481.3" fill="#6afee6"/>
<polygon points="216.0,481.3 216.8,471.6 217.7,461.9 218.7,452.1 219.6,442.4 220.5,432.7 221.9,423.0 223.4,413.4 224.8,403.7 226.2,394.1 228.3,384.5 230.4,375.0 232.5,365.5 234.6,356.0 236.8,346.4 239.0,336.9 241.2,327.4 243.3,317.9 245.9,308.5 248.5,299.1 251.1,289.7 253.9,280.3 257.0,271.1 260.1,261.8 263.1,252.5 266.4,243.3 269.9,234.2 273.3,225.1 276.7,215.9 280.1,206.8 283.6,197.7 287.0,188.5 291.2,179.7 295.6,171.0 300.4,162.5 306.2,154.7 312.6,147.4 320.1,141.1 328.7,136.7 338.2,135.9 338.2,135.9 343.8,143.6 346.0,152.8 347.7,162.3 349.0,171.8 349.8,181.3 350.8,190.9 352.0,200.4 353.1,209.9 353.9,219.5 354.7,229.0 355.4,238.6 356.2,248.1 356.9,257.7 357.6,267.3 358.3,276.8 359.0,286.4 359.6,296.0 360.1,305.5 360.6,315.1 361.1,324.7 361.4,334.3 361.8,343.9 362.2,353.4 362.2,353.4 362.7,345.8 363.2,338.1 363.7,330.4 364.2,322.7 364.8,315.0 365.7,307.4 366.7,299.8 367.6,292.1 368.8,284.5 370.4,277.0 372.0,269.5 374.4,262.3 379.0,256.1 379.0,256.1 383.7,260.8 386.4,266.8 388.5,273.2 390.6,279.5 392.5,285.9 394.5,292.3 396.4,298.8 398.2,305.2 399.8,311.7 401.4,318.2 403.0,324.7 404.6,331.1 406.2,337.6 407.8,344.1 409.4,350.6 411.0,357.1 412.6,363.6 414.2,370.1 415.8,376.6 417.3,383.1 418.9,389.6 420.5,396.1 422.1,402.6 423.5,409.1 425.0,415.7 426.4,422.2 427.9,428.7 429.3,435.3 430.6,441.8 431.8,448.4 433.1,455.0 434.3,461.5 435.6,468.1 436.7,474.7 437.8,481.3" fill="#66f3fc"/>
<polygon points="219.9,481.3 220.6,471.7 221.5,462.0 222.3,452.4 223.2,442.8 224.1,433.2 225.4,423.6 226.8,414.0 228.2,404.5 229.6,394.9 231.6,385.5 233.6,376.0 235.6,366.6 237.6,357.1 239.7,347.7 241.8,338.3 244.0,328.8 246.1,319.4 248.6,310.1 251.1,300.7 253.7,291.4 256.4,282.2 259.4,273.0 262.4,263.8 265.5,254.6 268.7,245.5 272.0,236.4 275.3,227.4 278.7,218.3 282.0,209.2 285.3,200.2 288.7,191.1 292.7,182.3 297.0,173.7 301.6,165.2 307.1,157.3 313.2,149.9 320.3,143.4 328.6,138.7 337.9,137.8 337.9,137.8 343.5,145.6 346.0,154.8 347.6,164.3 348.8,173.9 349.7,183.6 350.7,193.2 351.9,202.8 353.0,212.4 353.8,222.0 354.6,231.6 355.4,241.2 356.1,250.9 356.8,260.5 357.5,270.2 358.2,279.8 358.9,289.4 359.5,299.1 360.0,308.7 360.5,318.4 361.0,328.0 361.4,337.7 361.8,347.3 362.2,357.0 362.2,357.0 362.7,349.5 363.3,342.1 363.8,334.6 364.3,327.2 365.0,319.7 365.9,312.3 366.9,304.9 367.8,297.5 369.0,290.1 370.6,282.9 372.3,275.6 374.7,268.7 379.3,262.7 379.3,262.7 383.8,267.3 386.5,273.1 388.6,279.2 390.5,285.4 392.4,291.6 394.2,297.9 396.1,304.1 397.8,310.3 399.3,316.6 400.9,322.9 402.5,329.2 404.0,335.5 405.5,341.8 407.1,348.1 408.6,354.4 410.1,360.7 411.6,367.0 413.1,373.3 414.6,379.7 416.1,386.0 417.6,392.3 419.1,398.6 420.6,404.9 421.9,411.2 423.3,417.6 424.6,423.9 426.0,430.3 427.3,436.6 428.5,443.0 429.6,449.4 430.8,455.7 432.0,462.1 433.1,468.5 434.2,474.9 435.1,481.3" fill="#59d3fb"/>
<polygon points="223.8,481.3 224.4,471.8 225.2,462.2 226.0,452.7 226.8,443.2 227.6,433.6 228.8,424.2 230.2,414.7 231.6,405.2 233.0,395.7 234.8,386.4 236.7,377.0 238.7,367.6 240.6,358.3 242.6,348.9 244.7,339.6 246.8,330.2 248.9,320.9 251.2,311.6 253.7,302.4 256.3,293.2 258.9,284.0 261.8,274.9 264.8,265.8 267.8,256.7 270.9,247.7 274.1,238.7 277.4,229.7 280.6,220.7 283.8,211.7 287.1,202.7 290.4,193.7 294.2,185.0 298.4,176.3 302.8,167.9 308.0,160.0 313.9,152.5 320.5,145.8 328.5,140.8 337.7,139.6 337.7,139.6 343.2,147.6 346.0,156.8 347.5,166.4 348.6,176.1 349.6,185.8 350.6,195.5 351.8,205.1 352.9,214.8 353.7,224.5 354.5,234.2 355.3,243.9 356.0,253.6 356.7,263.3 357.4,273.1 358.1,282.8 358.8,292.5 359.4,302.2 359.9,311.9 360.4,321.7 360.9,331.4 361.4,341.1 361.8,350.8 362.2,360.6 362.2,360.6 362.8,353.3 363.4,346.1 363.9,338.9 364.5,331.7 365.2,324.5 366.1,317.3 367.0,310.1 368.0,302.9 369.1,295.8 370.8,288.7 372.5,281.7 375.1,275.1 379.5,269.3 379.5,269.3 383.9,273.9 386.7,279.3 388.6,285.3 390.5,291.3 392.2,297.3 394.0,303.4 395.7,309.4 397.4,315.5 398.9,321.6 400.4,327.7 401.9,333.8 403.4,339.9 404.8,346.0 406.3,352.1 407.7,358.2 409.2,364.3 410.6,370.4 412.0,376.6 413.4,382.7 414.9,388.8 416.3,394.9 417.7,401.0 419.0,407.2 420.3,413.3 421.6,419.5 422.8,425.6 424.1,431.8 425.3,437.9 426.4,444.1 427.5,450.3 428.5,456.5 429.6,462.7 430.6,468.9 431.6,475.1 432.5,481.3" fill="#46adf5"/>
<polygon points="226.7,481.3 227.3,471.8 228.0,462.4 228.8,452.9 229.5,443.4 230.3,434.0 231.4,424.6 232.8,415.2 234.1,405.8 235.5,396.4 237.2,387.1 239.1,377.7 241.0,368.4 242.9,359.1 244.8,349.9 246.9,340.6 248.9,331.3 250.9,322.0 253.2,312.8 255.7,303.7 258.2,294.5 260.8,285.4 263.7,276.3 266.6,267.3 269.5,258.3 272.6,249.3 275.7,240.3 278.9,231.4 282.1,222.4 285.2,213.5 288.4,204.6 291.6,195.6 295.4,186.9 299.4,178.3 303.7,169.9 308.7,161.9 314.4,154.4 320.7,147.5 328.5,142.3 337.5,141.1 337.5,141.1 343.0,149.1 345.9,158.3 347.4,168.0 348.5,177.7 349.5,187.4 350.6,197.2 351.7,206.9 352.8,216.6 353.6,226.4 354.4,236.2 355.2,245.9 356.0,255.7 356.7,265.5 357.4,275.2 358.0,285.0 358.7,294.8 359.3,304.5 359.8,314.3 360.3,324.1 360.8,333.9 361.3,343.7 361.8,353.4 362.2,363.2 362.2,363.2 362.8,356.2 363.4,349.1 364.0,342.1 364.7,335.0 365.4,328.0 366.3,321.0 367.2,314.0 368.1,306.9 369.3,300.0 371.0,293.1 372.7,286.3 375.4,279.9 379.7,274.3 379.7,274.3 383.9,278.7 386.8,284.0 388.6,289.9 390.4,295.7 392.1,301.6 393.8,307.5 395.5,313.4 397.1,319.3 398.6,325.3 400.0,331.2 401.5,337.2 402.9,343.1 404.3,349.1 405.7,355.1 407.1,361.0 408.5,367.0 409.9,373.0 411.2,379.0 412.6,384.9 413.9,390.9 415.3,396.9 416.6,402.9 417.9,408.9 419.1,414.9 420.3,420.9 421.5,426.9 422.7,432.9 423.8,438.9 424.8,445.0 425.8,451.0 426.8,457.1 427.8,463.1 428.8,469.2 429.7,475.2 430.5,481.3" fill="#3890f0"/>
<polygon points="229.6,481.3 230.2,471.9 230.8,462.5 231.5,453.1 232.2,443.7 232.9,434.3 234.0,425.0 235.4,415.7 236.7,406.3 238.0,397.0 239.7,387.7 241.5,378.5 243.3,369.3 245.1,360.0 247.0,350.8 249.0,341.6 251.0,332.4 253.0,323.2 255.2,314.0 257.6,304.9 260.1,295.8 262.7,286.8 265.5,277.8 268.4,268.8 271.3,259.8 274.3,250.9 277.4,242.0 280.4,233.1 283.5,224.2 286.6,215.3 289.7,206.4 292.9,197.6 296.5,188.9 300.4,180.3 304.6,171.9 309.4,163.9 314.8,156.3 320.9,149.3 328.4,143.9 337.3,142.5 337.3,142.5 342.8,150.6 345.9,159.8 347.3,169.5 348.4,179.3 349.4,189.1 350.5,198.9 351.6,208.7 352.7,218.5 353.5,228.3 354.3,238.1 355.1,247.9 355.9,257.7 356.6,267.6 357.3,277.4 358.0,287.2 358.6,297.1 359.2,306.9 359.7,316.7 360.2,326.6 360.8,336.4 361.3,346.2 361.8,356.1 362.2,365.9 362.2,365.9 362.9,359.0 363.5,352.2 364.1,345.3 364.8,338.4 365.5,331.5 366.4,324.7 367.3,317.8 368.2,311.0 369.4,304.2 371.1,297.5 372.9,290.8 375.6,284.7 379.9,279.3 379.9,279.3 384.0,283.6 386.9,288.7 388.6,294.4 390.4,300.1 392.0,305.9 393.6,311.6 395.2,317.4 396.8,323.2 398.2,329.0 399.7,334.8 401.1,340.6 402.4,346.4 403.8,352.2 405.1,358.1 406.5,363.9 407.8,369.7 409.1,375.5 410.4,381.4 411.7,387.2 413.0,393.1 414.3,398.9 415.5,404.7 416.7,410.6 417.9,416.5 419.0,422.3 420.1,428.2 421.3,434.1 422.3,439.9 423.3,445.8 424.2,451.7 425.1,457.6 426.0,463.6 426.9,469.5 427.8,475.4 428.5,481.3" fill="#3373f0"/>
<polygon points="232.5,481.3 233.0,472.0 233.7,462.6 234.3,453.3 234.9,444.0 235.6,434.7 236.6,425.4 237.9,416.1 239.2,406.9 240.5,397.6 242.1,388.4 243.9,379.2 245.6,370.1 247.4,360.9 249.2,351.7 251.2,342.6 253.1,333.4 255.1,324.3 257.2,315.2 259.5,306.2 262.1,297.1 264.6,288.2 267.3,279.2 270.1,270.3 273.0,261.4 275.9,252.5 279.0,243.7 282.0,234.8 285.0,226.0 288.0,217.2 291.1,208.3 294.2,199.5 297.6,190.8 301.5,182.3 305.5,173.9 310.1,165.9 315.3,158.2 321.1,151.0 328.4,145.4 337.1,143.9 337.1,143.9 342.6,152.1 345.9,161.3 347.2,171.1 348.3,180.9 349.3,190.8 350.5,200.6 351.6,210.5 352.6,220.3 353.5,230.2 354.3,240.1 355.0,249.9 355.8,259.8 356.5,269.7 357.2,279.6 357.9,289.5 358.5,299.3 359.1,309.2 359.6,319.1 360.2,329.0 360.7,338.9 361.3,348.8 361.7,358.7 362.2,368.6 362.2,368.6 362.9,361.9 363.6,355.2 364.2,348.5 364.9,341.8 365.7,335.1 366.6,328.4 367.5,321.7 368.4,315.0 369.5,308.4 371.3,301.9 373.0,295.4 375.9,289.5 380.1,284.2 380.1,284.2 384.0,288.5 387.0,293.4 388.7,299.0 390.3,304.5 391.9,310.2 393.5,315.8 395.0,321.4 396.5,327.0 397.9,332.7 399.3,338.3 400.6,344.0 402.0,349.7 403.3,355.4 404.6,361.0 405.9,366.7 407.1,372.4 408.4,378.1 409.6,383.8 410.8,389.5 412.1,395.2 413.3,400.9 414.5,406.6 415.6,412.3 416.6,418.0 417.7,423.8 418.8,429.5 419.8,435.2 420.8,440.9 421.7,446.7 422.5,452.5 423.4,458.2 424.2,464.0 425.1,469.7 425.8,475.5 426.5,481.3" fill="#2d56f2"/>
<polygon points="235.4,481.3 235.9,472.0 236.5,462.8 237.1,453.5 237.7,444.3 238.2,435.0 239.2,425.8 240.5,416.6 241.8,407.4 243.0,398.2 244.5,389.1 246.2,380.0 248.0,370.9 249.7,361.8 251.4,352.6 253.3,343.6 255.2,334.5 257.1,325.4 259.2,316.4 261.5,307.4 264.0,298.5 266.5,289.5 269.1,280.7 271.9,271.8 274.7,263.0 277.6,254.2 280.6,245.4 283.5,236.6 286.4,227.8 289.4,219.0 292.4,210.2 295.4,201.4 298.8,192.8 302.5,184.3 306.4,175.9 310.8,167.8 315.8,160.1 321.3,152.8 328.3,147.0 336.9,145.3 336.9,145.3 342.4,153.6 345.9,162.8 347.1,172.7 348.1,182.6 349.3,192.5 350.4,202.4 351.5,212.3 352.5,222.2 353.4,232.1 354.2,242.0 355.0,251.9 355.8,261.9 356.5,271.8 357.2,281.7 357.8,291.7 358.4,301.6 359.0,311.6 359.5,321.5 360.1,331.5 360.7,341.4 361.2,351.3 361.7,361.3 362.2,371.2 362.2,371.2 362.9,364.7 363.6,358.2 364.3,351.7 365.1,345.1 365.8,338.6 366.7,332.1 367.6,325.6 368.5,319.1 369.7,312.6 371.4,306.3 373.2,300.0 376.1,294.3 380.3,289.2 380.3,289.2 384.1,293.4 387.1,298.1 388.7,303.5 390.3,309.0 391.8,314.4 393.3,319.9 394.7,325.4 396.2,330.9 397.6,336.4 398.9,341.9 400.2,347.4 401.5,353.0 402.7,358.5 404.0,364.0 405.2,369.6 406.5,375.1 407.6,380.7 408.8,386.2 410.0,391.8 411.1,397.3 412.3,402.9 413.4,408.4 414.4,414.0 415.4,419.6 416.4,425.2 417.4,430.8 418.4,436.3 419.3,441.9 420.1,447.6 420.9,453.2 421.7,458.8 422.5,464.4 423.3,470.0 423.9,475.7 424.6,481.3" fill="#233af6"/>
<polygon points="238.3,481.3 238.7,472.1 239.3,462.9 239.8,453.7 240.4,444.6 240.9,435.4 241.8,426.2 243.1,417.1 244.3,408.0 245.5,398.9 247.0,389.8 248.6,380.7 250.3,371.7 251.9,362.6 253.6,353.6 255.5,344.6 257.3,335.6 259.2,326.5 261.1,317.6 263.4,308.7 265.9,299.8 268.4,290.9 271.0,282.1 273.7,273.3 276.5,264.5 279.3,255.8 282.2,247.0 285.0,238.3 287.9,229.6 290.8,220.8 293.7,212.1 296.7,203.4 299.9,194.8 303.5,186.3 307.3,178.0 311.5,169.8 316.3,162.0 321.5,154.6 328.3,148.5 336.7,146.7 336.7,146.7 342.1,155.1 345.8,164.3 347.0,174.2 348.0,184.2 349.2,194.1 350.4,204.1 351.4,214.0 352.5,224.0 353.3,234.0 354.1,244.0 354.9,253.9 355.7,263.9 356.4,273.9 357.1,283.9 357.8,293.9 358.3,303.9 358.9,313.9 359.4,323.9 360.0,333.9 360.6,343.9 361.2,353.9 361.7,363.9 362.2,373.9 362.2,373.9 363.0,367.6 363.7,361.2 364.4,354.9 365.2,348.5 366.0,342.1 366.9,335.8 367.7,329.5 368.6,323.1 369.8,316.8 371.6,310.7 373.4,304.6 376.4,299.1 380.5,294.1 380.5,294.1 384.1,298.3 387.2,302.7 388.7,308.1 390.2,313.4 391.7,318.7 393.1,324.0 394.5,329.4 395.9,334.7 397.2,340.1 398.6,345.5 399.8,350.8 401.0,356.2 402.2,361.6 403.4,367.0 404.6,372.4 405.8,377.8 406.9,383.2 408.0,388.6 409.1,394.0 410.2,399.4 411.3,404.9 412.3,410.3 413.3,415.7 414.2,421.2 415.1,426.6 416.1,432.0 417.0,437.5 417.8,442.9 418.6,448.4 419.3,453.9 420.0,459.4 420.7,464.8 421.4,470.3 422.0,475.8 422.6,481.3" fill="#211ffb"/>
<polygon points="241.2,481.3 241.6,472.2 242.1,463.1 242.6,453.9 243.1,444.8 243.6,435.7 244.4,426.6 245.6,417.6 246.8,408.5 248.1,399.5 249.4,390.5 251.0,381.5 252.6,372.5 254.2,363.5 255.8,354.5 257.6,345.6 259.4,336.6 261.3,327.7 263.1,318.7 265.4,309.9 267.8,301.1 270.3,292.3 272.8,283.5 275.5,274.8 278.2,266.1 281.0,257.4 283.8,248.7 286.6,240.0 289.4,231.3 292.2,222.6 295.0,214.0 298.0,205.3 301.0,196.7 304.6,188.3 308.2,180.0 312.2,171.8 316.8,164.0 321.6,156.3 328.2,150.1 336.5,148.1 336.5,148.1 341.9,156.6 345.8,165.8 346.9,175.8 347.9,185.8 349.1,195.8 350.3,205.8 351.4,215.8 352.4,225.8 353.2,235.9 354.0,245.9 354.8,256.0 355.6,266.0 356.3,276.0 357.0,286.1 357.7,296.1 358.2,306.2 358.8,316.3 359.3,326.3 359.9,336.4 360.6,346.4 361.2,356.5 361.7,366.5 362.2,376.6 362.2,376.6 363.0,370.4 363.8,364.2 364.6,358.0 365.3,351.9 366.1,345.7 367.0,339.5 367.9,333.3 368.7,327.2 369.9,321.1 371.7,315.1 373.6,309.2 376.7,303.9 380.7,299.1 380.7,299.1 384.2,303.2 387.3,307.4 388.8,312.6 390.2,317.8 391.5,323.0 392.9,328.2 394.3,333.4 395.6,338.6 396.9,343.8 398.2,349.0 399.4,354.2 400.5,359.5 401.7,364.7 402.8,370.0 404.0,375.2 405.1,380.5 406.1,385.8 407.2,391.0 408.2,396.3 409.3,401.6 410.3,406.8 411.3,412.1 412.1,417.4 413.0,422.7 413.9,428.0 414.7,433.3 415.6,438.6 416.3,443.9 417.0,449.3 417.6,454.6 418.3,459.9 418.9,465.3 419.6,470.6 420.1,476.0 420.6,481.3" fill="#2206ff"/>
<polygon points="243.1,481.3 243.5,472.2 244.0,463.2 244.4,454.1 244.9,445.0 245.3,435.9 246.2,426.9 247.4,417.9 248.5,408.9 249.7,399.9 251.0,390.9 252.6,382.0 254.1,373.0 255.7,364.1 257.2,355.1 259.0,346.2 260.8,337.3 262.6,328.4 264.5,319.5 266.7,310.7 269.1,302.0 271.5,293.2 274.0,284.5 276.7,275.8 279.4,267.1 282.1,258.5 284.8,249.8 287.6,241.2 290.3,232.5 293.1,223.9 295.9,215.2 298.8,206.6 301.8,198.0 305.3,189.7 308.8,181.3 312.6,173.1 317.1,165.2 321.8,157.5 328.2,151.1 336.4,149.1 336.4,149.1 341.8,157.6 345.8,166.8 346.8,176.8 347.8,186.9 349.0,196.9 350.3,206.9 351.3,217.0 352.3,227.1 353.2,237.1 354.0,247.2 354.8,257.3 355.6,267.4 356.3,277.5 357.0,287.5 357.6,297.6 358.2,307.7 358.7,317.8 359.3,327.9 359.9,338.0 360.5,348.1 361.1,358.2 361.7,368.3 362.2,378.4 362.2,378.4 363.0,372.3 363.8,366.2 364.6,360.2 365.4,354.1 366.2,348.0 367.1,342.0 368.0,335.9 368.8,329.9 370.0,323.9 371.9,318.0 373.7,312.2 376.8,307.1 380.8,302.4 380.8,302.4 384.2,306.4 387.4,310.5 388.8,315.6 390.1,320.7 391.5,325.8 392.8,330.9 394.1,336.0 395.4,341.2 396.7,346.3 397.9,351.4 399.1,356.5 400.2,361.7 401.3,366.8 402.5,372.0 403.6,377.1 404.7,382.3 405.6,387.5 406.6,392.6 407.6,397.8 408.6,403.0 409.6,408.2 410.6,413.4 411.4,418.6 412.2,423.8 413.0,429.0 413.8,434.2 414.6,439.4 415.4,444.6 415.9,449.9 416.5,455.1 417.1,460.3 417.7,465.6 418.3,470.8 418.8,476.0 419.3,481.3" fill="#2206ff"/>
<polygon points="245.0,481.3 245.4,472.3 245.8,463.2 246.3,454.2 246.7,445.2 247.1,436.2 247.9,427.2 249.1,418.2 250.2,409.3 251.4,400.3 252.7,391.4 254.2,382.5 255.7,373.6 257.2,364.7 258.7,355.8 260.5,346.9 262.2,338.0 264.0,329.2 265.8,320.3 268.0,311.6 270.4,302.9 272.8,294.2 275.2,285.5 277.8,276.8 280.5,268.2 283.2,259.6 285.9,250.9 288.6,242.3 291.3,233.7 294.0,225.1 296.8,216.5 299.7,207.9 302.5,199.3 305.9,191.0 309.4,182.7 313.1,174.4 317.5,166.5 321.9,158.6 328.1,152.1 336.3,150.0 336.3,150.0 341.6,158.6 345.8,167.8 346.8,177.9 347.7,188.0 349.0,198.0 350.2,208.1 351.3,218.2 352.3,228.3 353.1,238.4 354.0,248.5 354.7,258.6 355.5,268.7 356.3,278.9 357.0,289.0 357.6,299.1 358.1,309.2 358.7,319.4 359.2,329.5 359.8,339.6 360.5,349.8 361.1,359.9 361.7,370.0 362.2,380.2 362.2,380.2 363.0,374.2 363.9,368.2 364.7,362.3 365.5,356.3 366.4,350.4 367.2,344.5 368.1,338.5 368.9,332.6 370.1,326.7 372.0,321.0 373.8,315.3 377.0,310.3 380.9,305.7 380.9,305.7 384.3,309.7 387.5,313.7 388.8,318.7 390.1,323.7 391.4,328.7 392.7,333.7 393.9,338.7 395.2,343.7 396.4,348.7 397.7,353.8 398.8,358.8 399.9,363.9 401.0,368.9 402.1,374.0 403.2,379.0 404.2,384.1 405.1,389.2 406.1,394.3 407.1,399.3 408.0,404.4 409.0,409.5 409.8,414.6 410.6,419.7 411.4,424.8 412.1,429.9 412.9,435.0 413.7,440.2 414.4,445.3 414.9,450.4 415.4,455.6 416.0,460.7 416.5,465.8 417.1,471.0 417.5,476.1 417.9,481.3" fill="#2206ff"/>
</g>
</g>
<line x1="92.5" y1="471.9" x2="97.5" y2="471.9" stroke="#555" stroke-width="1.2"/>
<text x="83.5" y="482.1" font-size="26" text-anchor="end" fill="#1a1a1a">300</text>
<line x1="92.5" y1="378.9" x2="97.5" y2="378.9" stroke="#555" stroke-width="1.2"/>
<text x="83.5" y="389.1" font-size="26" text-anchor="end" fill="#1a1a1a">400</text>
<line x1="92.5" y1="285.8" x2="97.5" y2="285.8" stroke="#555" stroke-width="1.2"/>
<text x="83.5" y="296.0" font-size="26" text-anchor="end" fill="#1a1a1a">500</text>
<line x1="92.5" y1="192.8" x2="97.5" y2="192.8" stroke="#555" stroke-width="1.2"/>
<text x="83.5" y="203.0" font-size="26" text-anchor="end" fill="#1a1a1a">600</text>
<line x1="92.5" y1="99.8" x2="97.5" y2="99.8" stroke="#555" stroke-width="1.2"/>
<text x="83.5" y="110.0" font-size="26" text-anchor="end" fill="#1a1a1a">700</text>
<line x1="219.6" y1="472.0" x2="219.6" y2="477.5" stroke="#555" stroke-width="1.2"/>
<text x="219.6" y="513.1" font-size="26" text-anchor="middle" fill="#1a1a1a">-0.5</text>
<line x1="342.5" y1="472.0" x2="342.5" y2="477.5" stroke="#555" stroke-width="1.2"/>
<text x="342.5" y="513.1" font-size="26" text-anchor="middle" fill="#1a1a1a">0</text>
<line x1="465.4" y1="472.0" x2="465.4" y2="477.5" stroke="#555" stroke-width="1.2"/>
<text x="465.4" y="513.1" font-size="26" text-anchor="middle" fill="#1a1a1a">0.5</text>
<text x="342.5" y="549.4" font-size="28" text-anchor="middle" fill="#1a1a1a"><tspan font-style="italic">B</tspan> (T)</text>
<text transform="translate(28.2,261) rotate(-90)" font-size="29" text-anchor="middle" fill="#1a1a1a"><tspan font-style="italic">T</tspan> (mK)</text>
<text x="0.5" y="41.2" font-size="54" text-anchor="start" fill="#000" font-weight="bold">a</text>
<text x="322.7" y="388.9" font-size="21" text-anchor="middle" fill="#ffffff" font-weight="bold">SC-I</text>
<text x="395.2" y="388.9" font-size="21" text-anchor="middle" fill="#ffffff" font-weight="bold">SC-II</text>
<rect x="600.9" y="52.2" width="27.0" height="419.6" fill="url(#gradA)"/>
<line x1="623.4" y1="466.9" x2="627.9" y2="466.9" stroke="#333" stroke-width="1.2" opacity="0.8"/>
<text x="637.5" y="476.1" font-size="23.3" text-anchor="start" fill="#1a1a1a">0</text>
<line x1="623.4" y1="387.5" x2="627.9" y2="387.5" stroke="#333" stroke-width="1.2" opacity="0.8"/>
<text x="637.5" y="396.7" font-size="23.3" text-anchor="start" fill="#1a1a1a">0.2</text>
<line x1="623.4" y1="308.1" x2="627.9" y2="308.1" stroke="#333" stroke-width="1.2" opacity="0.8"/>
<text x="637.5" y="317.3" font-size="23.3" text-anchor="start" fill="#1a1a1a">0.4</text>
<line x1="623.4" y1="228.7" x2="627.9" y2="228.7" stroke="#333" stroke-width="1.2" opacity="0.8"/>
<text x="637.5" y="237.9" font-size="23.3" text-anchor="start" fill="#1a1a1a">0.6</text>
<line x1="623.4" y1="149.3" x2="627.9" y2="149.3" stroke="#333" stroke-width="1.2" opacity="0.8"/>
<text x="637.5" y="158.5" font-size="23.3" text-anchor="start" fill="#1a1a1a">0.8</text>
<line x1="623.4" y1="69.9" x2="627.9" y2="69.9" stroke="#333" stroke-width="1.2" opacity="0.8"/>
<text x="637.5" y="79.1" font-size="23.3" text-anchor="start" fill="#1a1a1a">1</text>
<text x="616.8" y="38.6" font-size="24.3" text-anchor="middle" fill="#1a1a1a"><tspan font-style="italic">R</tspan> (Ω)</text>
</g>
<g id="panel-b">
<rect x="758.6" y="54.5" width="517.7" height="416.5" fill="#fff" stroke="#444" stroke-width="1.3"/>
<line x1="782.1" y1="54.5" x2="782.1" y2="60.5" stroke="#444" stroke-width="1.3"/>
<line x1="782.1" y1="471.0" x2="782.1" y2="465.0" stroke="#444" stroke-width="1.3"/>
<line x1="899.7" y1="54.5" x2="899.7" y2="60.5" stroke="#444" stroke-width="1.3"/>
<line x1="899.7" y1="471.0" x2="899.7" y2="465.0" stroke="#444" stroke-width="1.3"/>
<line x1="1017.3" y1="54.5" x2="1017.3" y2="60.5" stroke="#444" stroke-width="1.3"/>
<line x1="1017.3" y1="471.0" x2="1017.3" y2="465.0" stroke="#444" stroke-width="1.3"/>
<line x1="1134.9" y1="54.5" x2="1134.9" y2="60.5" stroke="#444" stroke-width="1.3"/>
<line x1="1134.9" y1="471.0" x2="1134.9" y2="465.0" stroke="#444" stroke-width="1.3"/>
<line x1="1252.5" y1="54.5" x2="1252.5" y2="60.5" stroke="#444" stroke-width="1.3"/>
<line x1="1252.5" y1="471.0" x2="1252.5" y2="465.0" stroke="#444" stroke-width="1.3"/>
<polyline points="782.1,85.5 785.1,85.7 788.1,85.6 791.1,85.8 794.2,85.8 797.2,85.4 800.2,85.4 803.2,85.9 806.2,85.5 809.2,85.5 812.3,86.0 815.3,85.7 818.3,85.9 821.3,85.7 824.3,85.8 827.3,85.5 830.4,85.8 833.4,86.0 836.4,85.7 839.4,85.9 842.4,85.8 845.4,85.4 848.4,85.9 851.5,85.8 854.5,85.6 857.5,85.4 860.5,86.0 863.5,85.7 866.5,85.9 869.6,86.0 872.6,85.8 875.6,86.0 878.6,85.6 881.6,85.9 884.6,85.7 887.7,86.0 890.7,86.0 893.7,85.4 896.7,85.4 899.7,85.5 902.7,86.0 905.7,85.7 908.8,85.8 911.8,85.6 914.8,85.7 917.8,85.6 921.2,86.1 924.6,86.8 929.8,89.7 932.1,92.1 934.4,94.1 936.6,96.4 939.1,98.3 941.6,100.4 943.7,104.1 945.8,107.6 947.8,111.3 949.9,114.6 951.9,117.7 954.4,120.9 956.9,124.5 959.1,126.2 961.4,128.6 963.7,130.4 967.1,132.4 970.5,134.4 973.9,137.3 977.3,139.8 979.9,141.6 982.5,144.5 985.9,146.0 989.3,147.5 993.5,148.6 997.8,150.0 1001.0,150.1 1004.3,149.5 1007.5,149.9 1010.8,149.5 1014.0,150.0 1017.3,149.7 1019.0,146.2 1019.8,142.8 1020.7,139.0 1021.6,135.9 1022.4,132.0 1022.9,128.7 1023.4,125.9 1023.9,122.4 1024.4,119.4 1024.9,116.4 1025.2,113.4 1025.5,109.9 1025.8,106.7 1026.1,104.1 1026.4,100.5 1026.7,97.8 1027.1,94.6 1027.6,91.0 1028.0,87.9 1030.0,85.4 1034.2,85.5 1038.5,85.4 1043.6,86.4 1046.6,88.0 1049.5,89.9 1053.1,90.8 1057.3,90.1 1062.5,88.1 1065.8,86.6 1069.0,85.6 1072.1,86.0 1075.1,85.7 1078.1,85.7 1081.1,85.4 1084.1,85.6 1087.1,85.8 1090.1,85.4 1093.1,85.8 1096.1,85.8 1099.1,85.4 1102.1,85.8 1105.1,85.7 1108.1,85.8 1111.1,85.6 1114.2,85.8 1117.2,85.9 1120.2,85.4 1123.2,85.4 1126.2,85.8 1129.2,86.0 1132.2,85.5 1135.2,85.7 1138.2,85.8 1141.2,85.6 1144.2,85.6 1147.2,85.6 1150.2,85.6 1153.3,85.8 1156.3,85.6 1159.3,85.6 1162.3,85.9 1165.3,85.4 1168.3,85.7 1171.3,85.9 1174.3,85.6 1177.3,85.5 1180.3,85.9 1183.3,85.5 1186.3,85.5 1189.3,85.7 1192.4,85.8 1195.4,85.4 1198.4,85.6 1201.4,85.6 1204.4,85.9 1207.4,85.7 1210.4,85.9 1213.4,85.5 1216.4,85.6 1219.4,85.8 1222.4,86.0 1225.4,85.7 1228.4,85.5 1231.4,85.4 1234.5,85.7 1237.5,85.5 1240.5,85.9 1243.5,85.9 1246.5,85.5 1249.5,85.5 1252.5,85.7" fill="none" stroke="#fa1a10" stroke-width="3.8" stroke-linejoin="round" stroke-linecap="round"/>
<polyline points="782.1,85.9 785.1,85.8 788.1,85.9 791.1,85.6 794.1,85.4 797.1,85.6 800.1,85.9 803.2,85.5 806.2,85.6 809.2,85.6 812.2,85.6 815.2,85.6 818.2,86.0 821.2,85.5 824.2,85.4 827.2,86.0 830.2,86.0 833.2,86.0 836.2,85.7 839.2,86.0 842.2,86.0 845.3,85.5 848.3,85.9 851.3,85.9 854.3,85.8 857.3,85.7 860.3,85.6 863.3,85.6 866.3,85.5 869.3,85.4 872.3,85.8 875.3,85.6 878.3,85.9 881.3,85.4 884.4,86.0 887.4,85.8 890.4,86.0 893.4,86.0 896.4,86.0 899.4,85.8 902.4,85.4 905.4,85.9 908.4,85.5 911.4,85.6 914.4,85.8 917.4,85.7 920.4,85.6 923.5,86.0 926.5,85.8 929.5,85.6 932.5,85.5 935.5,86.0 938.5,85.7 941.5,85.9 944.5,85.6 947.5,85.5 950.5,85.7 953.5,85.9 956.5,85.5 959.5,85.9 962.5,86.0 965.6,85.9 968.8,87.0 972.1,87.6 977.3,90.3 981.5,91.1 985.1,89.2 988.0,87.8 991.0,86.2 996.1,85.4 1000.4,85.3 1004.6,85.4 1006.6,88.1 1007.0,90.8 1007.5,94.0 1007.9,97.2 1008.2,100.4 1008.5,103.5 1008.8,107.3 1009.1,110.4 1009.4,113.0 1009.7,116.5 1010.2,119.5 1010.7,122.6 1011.2,125.7 1011.7,129.1 1012.2,132.2 1013.0,135.5 1013.9,138.8 1014.8,142.4 1015.6,145.7 1017.3,149.8 1020.6,150.0 1023.8,149.7 1027.1,149.5 1030.3,149.6 1033.6,149.7 1036.8,149.9 1041.1,149.0 1045.3,147.7 1048.7,146.2 1052.1,144.4 1054.7,141.8 1057.3,139.3 1060.7,137.1 1064.1,134.9 1067.5,132.5 1070.9,130.5 1073.2,128.3 1075.5,126.2 1077.7,124.4 1080.2,121.0 1082.7,117.1 1084.7,114.2 1086.8,111.0 1088.8,108.1 1090.9,104.3 1093.0,100.0 1095.5,98.3 1098.0,96.3 1100.2,93.8 1102.5,91.8 1104.8,89.4 1110.0,86.9 1113.4,86.3 1116.8,86.0 1119.8,85.9 1122.8,85.8 1125.8,85.9 1128.9,85.7 1131.9,85.4 1134.9,85.8 1137.9,85.4 1140.9,85.5 1143.9,85.9 1146.9,85.4 1150.0,85.4 1153.0,85.4 1156.0,86.0 1159.0,85.5 1162.0,85.4 1165.0,85.9 1168.1,85.4 1171.1,85.9 1174.1,85.8 1177.1,85.9 1180.1,86.0 1183.1,85.8 1186.2,85.9 1189.2,85.4 1192.2,85.9 1195.2,85.7 1198.2,85.9 1201.2,85.4 1204.2,85.9 1207.3,86.0 1210.3,85.4 1213.3,85.6 1216.3,85.7 1219.3,85.9 1222.3,85.5 1225.4,85.5 1228.4,85.5 1231.4,85.8 1234.4,85.9 1237.4,85.6 1240.4,85.6 1243.5,85.6 1246.5,85.6 1249.5,85.6 1252.5,85.7" fill="none" stroke="#000000" stroke-width="3.8" stroke-linejoin="round" stroke-linecap="round"/>
<polyline points="782.1,149.5 785.1,149.8 788.1,150.1 791.1,149.7 794.1,150.0 797.1,149.6 800.1,149.9 803.1,150.0 806.1,149.9 809.1,149.8 812.1,149.8 815.1,149.9 818.1,150.1 821.1,149.6 824.1,149.5 827.1,150.0 830.2,150.1 833.2,149.8 836.2,149.8 839.2,150.0 842.2,149.6 845.2,149.6 848.2,149.6 851.2,149.9 854.2,149.7 857.2,149.6 860.2,149.9 863.2,150.1 866.2,149.7 869.2,149.9 872.2,149.7 875.2,150.0 878.2,149.9 881.2,149.6 884.2,149.6 887.2,149.5 890.2,149.8 893.2,149.7 896.2,149.6 899.2,149.7 902.6,150.4 905.9,151.4 909.3,152.7 912.8,155.0 915.0,156.7 917.3,158.8 919.6,160.7 921.8,163.0 924.0,165.0 926.3,166.8 928.6,169.4 930.8,172.1 933.1,174.8 935.4,177.7 937.6,181.1 939.9,184.4 942.2,186.4 944.5,188.5 946.7,190.8 949.6,193.7 952.4,196.1 955.2,198.8 958.0,201.2 960.9,203.2 963.7,205.5 967.1,208.2 970.5,210.7 973.9,212.6 977.3,214.2 980.5,214.2 983.6,213.7 986.8,214.2 989.9,213.8 993.1,213.8 996.3,214.1 999.4,213.6 1002.6,213.6 1005.7,214.1 1008.9,213.8 1012.1,213.8 1015.2,214.0 1018.4,214.0 1021.5,213.6 1022.9,213.1 1023.9,209.6 1024.8,206.0 1025.8,202.2 1026.3,198.9 1026.9,195.6 1027.4,191.7 1028.0,188.3 1028.3,184.8 1028.7,181.8 1029.0,178.9 1029.3,175.4 1029.7,172.8 1030.0,169.6 1030.4,165.6 1030.9,162.8 1031.3,158.9 1031.7,155.8 1034.3,151.3 1039.4,150.9 1042.0,155.7 1042.8,159.1 1043.7,162.6 1044.5,165.7 1045.1,169.0 1045.8,172.2 1046.4,175.1 1047.1,178.0 1049.5,182.2 1053.1,183.3 1057.3,181.1 1059.8,178.9 1062.4,176.5 1064.9,172.9 1067.4,169.1 1070.0,166.1 1072.6,162.7 1075.1,159.3 1077.7,156.7 1081.1,154.3 1084.4,151.8 1088.7,151.2 1093.0,149.5 1096.0,149.7 1099.1,150.0 1102.1,149.9 1105.1,149.8 1108.1,149.9 1111.1,149.8 1114.1,149.7 1117.1,149.6 1120.1,149.5 1123.1,150.0 1126.1,150.0 1129.1,149.8 1132.1,150.0 1135.2,149.7 1138.2,149.6 1141.2,149.7 1144.2,150.1 1147.2,149.5 1150.2,149.8 1153.2,149.6 1156.2,150.0 1159.2,149.7 1162.2,149.7 1165.2,149.7 1168.3,149.8 1171.3,150.0 1174.3,149.7 1177.3,150.0 1180.3,149.5 1183.3,149.6 1186.3,149.5 1189.3,149.5 1192.3,150.0 1195.3,150.0 1198.3,149.6 1201.4,149.6 1204.4,149.7 1207.4,150.0 1210.4,150.0 1213.4,150.0 1216.4,149.9 1219.4,149.6 1222.4,149.7 1225.4,149.6 1228.4,149.8 1231.4,149.8 1234.4,149.6 1237.5,149.6 1240.5,150.0 1243.5,149.5 1246.5,150.0 1249.5,150.1 1252.5,149.8" fill="none" stroke="#fa1a10" stroke-width="3.8" stroke-linejoin="round" stroke-linecap="round"/>
<polyline points="782.1,150.1 785.1,149.7 788.1,149.8 791.1,149.9 794.1,149.9 797.1,150.1 800.2,149.9 803.2,149.7 806.2,150.1 809.2,149.8 812.2,149.9 815.2,150.0 818.2,149.5 821.2,150.0 824.2,149.9 827.2,149.8 830.2,149.8 833.2,149.8 836.3,149.6 839.3,149.8 842.3,149.5 845.3,149.8 848.3,149.9 851.3,149.8 854.3,149.8 857.3,150.1 860.3,150.1 863.3,149.5 866.3,150.0 869.4,149.9 872.4,149.5 875.4,149.7 878.4,149.6 881.4,149.5 884.4,149.8 887.4,150.1 890.4,149.7 893.4,150.1 896.4,149.9 899.4,149.5 902.5,150.1 905.5,149.9 908.5,150.1 911.5,150.0 914.5,150.0 917.5,149.7 920.5,150.0 923.5,150.1 926.5,150.1 929.5,149.8 932.5,150.0 935.5,149.8 938.6,149.5 941.6,149.5 945.9,150.6 950.2,151.8 953.5,154.0 956.9,156.4 959.5,159.7 962.0,162.6 964.6,165.9 967.2,169.5 969.7,172.7 972.2,176.3 974.8,179.0 977.3,181.1 981.5,183.0 985.1,182.8 987.5,178.2 988.2,174.9 988.8,171.8 989.5,168.9 990.1,165.9 990.9,162.2 991.8,158.6 992.6,155.4 995.2,151.3 1000.3,150.8 1002.9,155.5 1003.3,158.8 1003.7,162.3 1004.2,165.7 1004.6,169.3 1004.9,172.3 1005.3,175.3 1005.6,178.5 1005.9,181.7 1006.3,185.1 1006.6,188.0 1007.2,191.5 1007.7,195.3 1008.3,198.8 1008.8,202.5 1009.8,205.7 1010.7,209.6 1011.7,213.2 1013.1,213.6 1016.2,214.2 1019.4,213.7 1022.5,213.6 1025.7,213.9 1028.9,213.7 1032.0,214.0 1035.2,213.8 1038.3,213.6 1041.5,213.6 1044.7,214.1 1047.8,213.7 1051.0,214.1 1054.1,213.9 1057.3,214.2 1060.7,212.3 1064.1,210.8 1067.5,208.2 1070.9,206.0 1073.7,203.4 1076.6,200.8 1079.4,198.2 1082.2,196.1 1085.0,193.8 1087.9,191.1 1090.1,188.4 1092.4,186.1 1094.7,183.8 1097.0,180.7 1099.2,177.4 1101.5,174.2 1103.8,172.1 1106.0,169.7 1108.3,166.6 1110.6,165.1 1112.8,162.7 1115.0,160.9 1117.3,159.0 1119.6,157.0 1121.8,154.3 1125.3,152.8 1128.7,151.3 1132.0,150.8 1135.4,149.5 1138.4,149.7 1141.4,150.0 1144.4,149.5 1147.4,149.7 1150.4,149.7 1153.4,149.9 1156.4,150.1 1159.4,149.6 1162.4,150.0 1165.4,150.0 1168.4,150.0 1171.4,149.8 1174.4,150.1 1177.4,149.7 1180.4,149.7 1183.4,149.6 1186.4,150.0 1189.4,149.8 1192.4,149.6 1195.4,149.6 1198.4,150.0 1201.4,149.9 1204.4,149.9 1207.5,149.7 1210.5,149.8 1213.5,149.6 1216.5,149.9 1219.5,149.5 1222.5,149.8 1225.5,150.0 1228.5,149.9 1231.5,149.5 1234.5,149.6 1237.5,150.0 1240.5,149.9 1243.5,150.1 1246.5,150.1 1249.5,149.8 1252.5,149.8" fill="none" stroke="#000000" stroke-width="3.8" stroke-linejoin="round" stroke-linecap="round"/>
<polyline points="782.1,214.0 785.1,213.9 788.1,213.6 791.1,213.6 794.1,213.4 797.1,213.6 800.1,214.0 803.1,213.4 806.1,213.7 809.1,213.4 812.1,213.4 815.1,213.8 818.1,213.5 821.1,213.4 824.2,213.5 827.2,213.8 830.2,213.8 833.2,213.4 836.2,213.5 839.2,214.0 842.2,213.5 845.2,213.7 848.2,213.6 851.2,213.9 854.2,213.8 857.2,213.9 860.2,213.7 863.2,213.5 866.2,213.5 869.2,213.4 872.2,213.9 875.2,213.4 878.2,213.4 881.2,214.0 884.2,213.5 887.2,214.0 891.5,214.9 895.7,216.6 899.1,218.8 902.5,221.6 904.8,223.8 907.1,226.1 909.3,228.4 911.0,231.1 912.8,233.3 914.5,236.0 916.2,238.5 918.4,241.4 920.7,245.0 923.0,247.9 925.3,250.6 927.5,252.8 929.8,255.6 932.6,257.5 935.5,259.7 938.3,261.3 940.8,263.2 943.3,265.0 945.9,266.4 948.4,268.4 951.2,270.6 954.1,272.3 956.9,274.5 959.5,276.2 962.0,277.6 965.2,277.7 968.3,278.1 971.5,277.7 974.6,277.8 977.8,277.5 980.9,277.6 984.0,277.6 987.2,278.1 990.3,278.0 993.5,278.1 996.6,278.1 999.8,277.9 1002.9,278.1 1006.1,277.8 1009.2,277.7 1012.4,278.1 1015.5,278.1 1018.7,278.1 1021.8,277.8 1024.9,278.0 1026.9,277.2 1027.7,274.1 1028.4,270.5 1029.2,266.6 1029.6,263.9 1030.0,260.2 1030.5,257.0 1030.9,254.3 1031.3,250.9 1031.7,247.9 1032.1,245.0 1032.4,241.6 1032.8,239.1 1033.1,235.7 1033.4,232.9 1033.8,229.8 1036.0,225.0 1037.7,227.5 1038.3,230.2 1039.0,233.1 1039.6,236.2 1040.3,239.3 1040.9,242.1 1041.6,245.3 1042.3,248.8 1043.0,251.8 1043.6,255.1 1045.3,258.0 1047.1,260.9 1050.4,261.0 1053.8,261.3 1057.2,260.2 1060.6,259.0 1063.4,257.0 1066.2,255.0 1069.0,252.9 1071.3,250.4 1073.6,247.2 1075.9,244.4 1077.6,242.2 1079.3,239.6 1081.0,236.6 1082.7,234.0 1084.4,231.9 1086.1,228.7 1087.9,226.3 1090.1,224.6 1092.4,222.6 1094.7,220.3 1097.5,218.6 1100.3,217.1 1103.1,215.9 1107.4,214.7 1111.6,214.0 1114.7,213.9 1117.7,214.0 1120.8,213.4 1123.9,213.5 1126.9,213.4 1130.0,213.7 1133.1,213.6 1136.1,213.4 1139.2,213.7 1142.2,213.4 1145.3,213.6 1148.4,213.5 1151.4,213.9 1154.5,213.6 1157.6,213.5 1160.6,213.4 1163.7,213.7 1166.7,213.8 1169.8,213.8 1172.9,214.0 1175.9,213.9 1179.0,213.5 1182.1,213.4 1185.1,213.9 1188.2,213.9 1191.2,213.7 1194.3,213.9 1197.4,213.7 1200.4,213.5 1203.5,213.5 1206.6,213.4 1209.6,213.8 1212.7,214.0 1215.7,214.0 1218.8,213.7 1221.9,213.8 1224.9,214.0 1228.0,213.9 1231.1,213.8 1234.1,213.6 1237.2,213.7 1240.2,213.5 1243.3,213.5 1246.4,213.8 1249.4,214.0 1252.5,213.7" fill="none" stroke="#fa1a10" stroke-width="3.8" stroke-linejoin="round" stroke-linecap="round"/>
<polyline points="782.1,213.7 785.2,213.6 788.2,213.6 791.3,213.7 794.4,213.9 797.4,213.7 800.5,214.0 803.5,213.5 806.6,213.6 809.7,213.7 812.7,213.6 815.8,213.9 818.9,213.9 821.9,214.0 825.0,213.8 828.0,213.4 831.1,213.8 834.2,213.7 837.2,213.7 840.3,213.5 843.4,213.8 846.4,214.0 849.5,213.4 852.5,213.8 855.6,213.6 858.7,213.7 861.7,214.0 864.8,214.0 867.9,213.8 870.9,213.5 874.0,214.0 877.0,213.5 880.1,213.6 883.2,213.9 886.2,213.6 889.3,213.5 892.4,214.0 895.4,214.0 898.5,213.6 901.5,213.6 904.6,213.5 907.7,213.4 910.7,213.5 913.8,214.0 916.9,213.4 919.9,213.5 923.0,213.5 927.2,214.4 931.5,215.8 934.3,217.5 937.1,219.2 939.9,220.7 942.2,222.8 944.5,224.2 946.7,226.4 948.5,229.4 950.2,231.3 951.9,234.0 953.6,236.8 955.3,239.2 957.0,241.9 958.7,244.2 961.0,247.1 963.3,250.5 965.6,252.7 968.4,255.3 971.2,256.8 974.0,259.4 977.4,260.4 980.8,261.7 984.2,260.9 987.5,260.4 989.3,257.9 991.0,254.5 991.6,251.4 992.3,248.8 993.0,245.8 993.7,242.1 994.3,239.7 995.0,236.4 995.6,233.3 996.3,230.1 996.9,227.3 998.6,225.1 1000.8,229.8 1001.2,232.7 1001.5,235.7 1001.8,238.6 1002.2,241.8 1002.5,245.2 1002.9,247.6 1003.3,250.8 1003.7,254.5 1004.1,257.6 1004.6,260.8 1005.0,263.4 1005.4,266.6 1006.2,270.6 1006.9,273.8 1007.7,277.4 1009.7,277.7 1012.8,277.5 1015.9,277.7 1019.1,278.0 1022.2,278.0 1025.4,277.8 1028.5,277.8 1031.7,277.8 1034.8,277.8 1038.0,277.8 1041.1,278.0 1044.3,277.6 1047.4,277.9 1050.6,278.1 1053.7,278.0 1056.8,277.6 1060.0,278.1 1063.1,278.0 1066.3,277.6 1069.4,277.6 1072.6,277.6 1075.1,275.8 1077.7,274.7 1080.5,272.3 1083.4,270.6 1086.2,268.1 1088.7,266.3 1091.3,265.2 1093.8,263.5 1096.3,261.9 1099.1,259.7 1102.0,257.6 1104.8,255.7 1107.1,252.7 1109.3,250.5 1111.6,247.8 1113.9,244.5 1116.2,241.7 1118.4,238.4 1120.1,235.9 1121.8,233.3 1123.6,230.7 1125.3,228.2 1127.5,226.0 1129.8,224.0 1132.1,221.7 1135.5,219.2 1138.9,216.8 1143.1,215.0 1147.4,214.0 1150.4,213.5 1153.4,213.4 1156.4,213.7 1159.4,213.9 1162.4,213.6 1165.4,213.8 1168.4,213.5 1171.4,214.0 1174.4,213.7 1177.4,213.7 1180.4,213.7 1183.4,214.0 1186.4,214.0 1189.4,213.7 1192.4,213.7 1195.4,213.8 1198.4,213.4 1201.4,213.6 1204.4,213.9 1207.4,213.9 1210.4,213.4 1213.5,213.9 1216.5,213.6 1219.5,214.0 1222.5,213.6 1225.5,213.5 1228.5,213.7 1231.5,214.0 1234.5,213.7 1237.5,214.0 1240.5,213.8 1243.5,213.6 1246.5,213.6 1249.5,213.7 1252.5,213.7" fill="none" stroke="#000000" stroke-width="3.8" stroke-linejoin="round" stroke-linecap="round"/>
<polyline points="782.1,278.0 785.1,278.0 788.2,278.2 791.2,278.4 794.3,278.2 797.3,277.9 800.4,277.9 803.4,278.0 806.5,278.2 809.5,277.8 812.6,277.8 815.6,278.0 818.7,277.9 821.7,277.8 824.8,278.1 827.8,278.4 830.9,278.1 833.9,278.3 837.0,278.3 840.0,278.3 843.1,278.4 846.1,278.1 849.2,278.2 852.2,277.8 855.3,278.4 858.3,278.0 861.4,278.1 864.4,278.4 867.5,278.0 870.5,277.9 873.6,278.3 877.0,278.3 880.4,278.1 883.2,279.1 886.1,280.4 888.9,281.2 891.2,283.8 893.4,285.4 895.7,287.4 898.0,290.4 900.2,293.3 902.5,296.1 904.2,299.1 905.9,301.9 907.6,304.5 909.3,307.1 911.5,310.1 913.6,312.3 915.7,314.2 917.8,316.8 920.6,319.1 923.5,321.3 926.3,322.7 928.9,324.3 931.5,326.4 934.0,328.0 936.6,330.1 939.2,332.0 941.7,333.6 944.2,335.6 946.7,337.6 950.2,340.1 953.6,342.0 956.6,342.1 959.6,341.9 962.6,342.3 965.7,341.9 968.7,342.5 971.7,342.2 974.7,342.3 977.8,341.9 980.8,342.0 983.8,342.2 986.8,342.5 989.9,342.2 992.9,342.0 995.9,342.5 998.9,342.3 1002.0,342.2 1005.0,342.0 1008.0,342.1 1011.0,342.5 1014.1,341.9 1017.1,342.2 1020.1,342.3 1023.1,342.1 1026.2,342.4 1029.2,342.5 1030.9,336.9 1031.6,333.4 1032.2,329.6 1032.8,326.1 1033.5,322.9 1034.3,318.9 1035.2,314.9 1038.5,315.4 1040.3,319.2 1041.5,324.0 1042.7,328.4 1045.3,333.0 1049.5,333.1 1053.8,332.3 1057.2,331.0 1060.7,329.9 1064.1,328.6 1066.9,326.9 1069.7,324.9 1072.6,323.2 1074.7,320.6 1076.8,317.5 1078.9,315.1 1081.0,312.5 1082.7,309.8 1084.4,307.2 1086.2,304.6 1087.9,302.3 1090.4,299.2 1093.0,296.2 1095.5,293.4 1098.1,291.3 1100.6,289.0 1103.1,286.5 1106.0,284.8 1108.8,282.5 1111.6,280.8 1115.0,279.9 1118.5,278.7 1121.9,278.3 1124.9,278.0 1127.9,278.1 1131.0,278.2 1134.0,278.2 1137.1,278.1 1140.1,277.8 1143.1,278.3 1146.2,278.4 1149.2,278.1 1152.2,278.2 1155.3,277.9 1158.3,278.4 1161.4,278.2 1164.4,277.9 1167.4,278.3 1170.5,278.4 1173.5,278.0 1176.6,278.4 1179.6,278.1 1182.6,277.9 1185.7,278.3 1188.7,278.0 1191.7,278.3 1194.8,278.2 1197.8,277.8 1200.9,278.1 1203.9,278.3 1206.9,278.1 1210.0,278.1 1213.0,278.4 1216.0,278.1 1219.1,278.1 1222.1,278.2 1225.2,278.3 1228.2,277.9 1231.2,277.8 1234.3,278.3 1237.3,278.1 1240.3,278.0 1243.4,278.4 1246.4,278.4 1249.5,278.1 1252.5,278.1" fill="none" stroke="#fa1a10" stroke-width="3.8" stroke-linejoin="round" stroke-linecap="round"/>
<polyline points="782.1,278.4 785.1,278.3 788.2,278.3 791.2,278.0 794.3,277.8 797.3,278.2 800.3,278.3 803.4,278.0 806.4,278.1 809.4,278.1 812.5,277.9 815.5,278.2 818.6,278.1 821.6,278.0 824.6,277.8 827.7,278.1 830.7,278.0 833.7,278.3 836.8,277.9 839.8,278.0 842.9,277.9 845.9,278.0 848.9,278.2 852.0,277.8 855.0,277.8 858.0,278.1 861.1,277.9 864.1,278.1 867.2,277.9 870.2,277.8 873.2,278.1 876.3,278.4 879.3,278.4 882.4,278.1 885.4,278.0 888.4,277.8 891.5,277.9 894.5,278.0 897.5,278.4 900.6,277.8 903.6,278.4 906.7,278.1 909.7,278.1 912.7,277.9 916.1,279.3 919.6,279.6 923.0,280.7 925.8,282.7 928.6,284.5 931.5,286.5 934.0,289.3 936.5,291.5 939.1,293.8 941.6,296.8 944.2,299.1 946.7,302.3 948.4,305.0 950.2,307.2 951.9,310.0 953.6,312.9 955.7,315.1 957.8,318.0 959.9,320.1 962.0,323.1 964.9,324.8 967.7,327.0 970.5,328.8 973.9,330.3 977.4,331.4 980.8,332.4 985.1,332.9 989.3,333.2 991.9,328.3 993.1,323.6 994.3,319.5 996.1,315.2 999.4,315.1 1000.3,318.7 1001.1,322.7 1001.8,326.5 1002.4,329.6 1003.0,333.4 1003.7,336.7 1005.4,342.5 1008.4,342.4 1011.5,342.4 1014.5,342.1 1017.5,341.9 1020.5,342.2 1023.6,342.4 1026.6,342.5 1029.6,342.0 1032.6,342.0 1035.7,342.5 1038.7,342.4 1041.7,342.2 1044.7,342.4 1047.8,342.0 1050.8,342.2 1053.8,342.3 1056.8,342.3 1059.9,342.0 1062.9,341.9 1065.9,342.3 1068.9,342.5 1072.0,341.9 1075.0,341.9 1078.0,341.9 1081.0,342.4 1084.4,339.8 1087.9,337.5 1090.4,336.0 1092.9,333.7 1095.4,331.6 1098.0,329.9 1100.6,327.7 1103.1,326.2 1105.7,324.8 1108.3,322.7 1111.1,320.6 1114.0,318.9 1116.8,316.8 1118.9,314.8 1121.0,311.9 1123.1,310.0 1125.3,307.3 1127.0,304.8 1128.7,301.7 1130.4,299.1 1132.1,296.1 1134.4,293.1 1136.6,290.4 1138.9,287.8 1141.2,285.5 1143.4,283.4 1145.7,281.5 1148.5,280.2 1151.4,279.3 1154.2,278.5 1157.6,278.3 1161.0,278.2 1164.1,278.0 1167.1,277.8 1170.2,277.8 1173.2,278.0 1176.3,277.9 1179.3,278.1 1182.4,277.9 1185.4,278.3 1188.5,278.2 1191.5,278.2 1194.6,278.3 1197.6,278.1 1200.7,278.0 1203.7,278.0 1206.8,277.8 1209.8,278.3 1212.9,278.1 1215.9,277.8 1219.0,278.4 1222.0,278.2 1225.1,278.2 1228.1,278.1 1231.2,277.8 1234.2,278.4 1237.3,277.9 1240.3,278.0 1243.4,278.4 1246.4,277.8 1249.5,278.1 1252.5,278.1" fill="none" stroke="#000000" stroke-width="3.8" stroke-linejoin="round" stroke-linecap="round"/>
<polyline points="782.1,342.2 785.2,342.0 788.2,342.5 791.3,342.1 794.4,341.9 797.4,342.2 800.5,341.9 803.6,342.3 806.6,342.5 809.7,342.5 812.8,341.9 815.8,342.3 818.9,342.1 822.0,342.2 825.0,342.1 828.1,342.1 831.2,341.9 834.2,342.3 837.3,341.9 840.4,342.5 843.4,341.9 846.5,342.5 849.6,342.0 852.6,341.9 855.7,342.4 858.8,342.2 861.8,342.4 866.1,342.7 870.3,343.2 873.1,344.3 875.9,346.1 878.8,347.5 881.0,350.1 883.3,351.7 885.6,354.1 887.3,357.1 889.0,359.9 890.7,362.2 892.4,365.0 894.1,367.6 895.8,370.1 897.5,372.8 899.2,375.6 901.3,377.3 903.5,379.7 905.6,382.1 907.7,384.0 911.1,385.6 914.4,386.9 917.8,388.4 920.4,390.2 922.9,391.8 925.5,393.5 928.0,394.7 930.9,397.1 933.8,399.8 936.6,402.1 940.0,403.7 943.4,405.5 946.8,405.8 950.2,405.8 953.6,406.1 956.6,406.0 959.6,406.1 962.7,406.3 965.7,406.1 968.8,406.6 971.8,406.3 974.8,406.2 977.9,406.3 980.9,406.0 984.0,406.5 987.0,406.5 990.0,406.2 993.1,406.5 996.1,406.1 999.2,406.1 1002.2,406.1 1005.2,406.1 1008.3,406.4 1011.3,406.4 1014.4,406.5 1017.4,406.0 1020.4,406.5 1023.5,406.3 1026.5,406.2 1029.5,406.3 1032.6,406.3 1033.9,403.3 1035.2,400.6 1039.4,401.7 1041.5,404.1 1043.6,406.6 1048.8,404.2 1053.1,405.0 1057.3,405.2 1060.1,404.0 1062.9,403.0 1065.8,401.3 1069.2,399.6 1072.6,397.5 1075.4,394.6 1078.2,392.6 1081.0,390.6 1083.9,388.1 1086.7,386.4 1089.5,384.4 1091.8,382.1 1094.1,379.9 1096.3,377.9 1098.0,375.7 1099.7,372.8 1101.4,370.0 1103.1,367.5 1104.9,365.2 1106.6,362.1 1108.3,359.4 1111.1,358.2 1114.0,356.0 1116.8,354.3 1119.6,352.7 1122.4,350.2 1125.3,348.0 1128.1,347.1 1130.9,345.2 1133.7,343.7 1137.1,343.4 1140.5,342.2 1144.0,341.8 1147.0,341.5 1150.0,341.5 1153.0,341.4 1156.0,341.7 1159.0,341.7 1162.0,341.6 1165.1,341.7 1168.1,341.6 1171.1,342.0 1174.1,342.0 1177.1,341.9 1180.1,342.0 1183.2,341.5 1186.2,341.6 1189.2,341.6 1192.2,341.6 1195.2,342.2 1198.2,342.2 1201.2,342.2 1204.3,342.0 1207.3,341.7 1210.3,341.9 1213.3,341.7 1216.3,342.3 1219.3,341.8 1222.3,341.9 1225.4,342.4 1228.4,341.8 1231.4,342.4 1234.4,342.0 1237.4,342.2 1240.4,341.9 1243.5,342.4 1246.5,342.1 1249.5,342.1 1252.5,342.2" fill="none" stroke="#fa1a10" stroke-width="3.8" stroke-linejoin="round" stroke-linecap="round"/>
<polyline points="782.1,342.3 785.1,342.2 788.1,342.0 791.1,341.9 794.2,342.2 797.2,341.8 800.2,342.4 803.2,342.0 806.2,341.8 809.2,341.9 812.3,341.8 815.3,341.9 818.3,342.0 821.3,341.9 824.3,341.8 827.3,341.8 830.3,341.9 833.4,342.1 836.4,341.8 839.4,342.0 842.4,341.8 845.4,341.6 848.4,341.6 851.4,342.0 854.5,341.8 857.5,341.7 860.5,341.7 863.5,342.0 866.5,341.6 869.5,341.6 872.6,341.6 875.6,341.3 878.6,341.7 881.6,341.6 884.6,341.6 887.6,341.5 890.6,341.5 894.1,342.5 897.5,342.9 900.9,344.3 903.7,345.1 906.5,347.1 909.3,348.1 912.2,350.5 915.0,352.2 917.8,354.1 920.6,356.2 923.5,358.2 926.3,359.9 928.0,362.6 929.7,365.2 931.5,367.2 933.2,370.1 934.9,372.5 936.6,375.6 938.3,378.1 940.5,380.3 942.8,382.3 945.1,384.5 947.9,386.3 950.7,388.5 953.6,390.3 956.4,392.3 959.2,395.2 962.0,396.9 965.4,399.1 968.8,401.8 971.7,402.6 974.5,404.0 977.3,404.7 981.5,404.5 985.8,404.5 991.0,406.0 993.1,403.9 995.2,401.9 999.4,400.5 1000.7,403.7 1002.0,406.5 1005.1,406.4 1008.1,406.5 1011.1,406.4 1014.2,406.0 1017.2,406.1 1020.2,406.3 1023.3,406.6 1026.3,406.1 1029.4,406.4 1032.4,406.0 1035.4,406.5 1038.5,406.3 1041.5,406.3 1044.6,406.4 1047.6,406.0 1050.6,406.5 1053.7,406.5 1056.7,406.6 1059.8,406.1 1062.8,406.1 1065.8,406.1 1068.9,406.6 1071.9,406.3 1075.0,406.2 1078.0,406.3 1081.0,406.4 1084.4,405.9 1087.8,405.6 1091.2,405.6 1094.6,404.1 1098.0,402.3 1100.8,399.6 1103.7,397.6 1106.6,394.9 1109.1,393.3 1111.7,391.6 1114.2,390.4 1116.8,388.4 1120.2,386.8 1123.5,385.3 1126.9,384.0 1129.0,382.0 1131.1,379.7 1133.3,378.0 1135.4,375.6 1137.1,372.8 1138.8,370.3 1140.5,367.6 1142.2,365.0 1143.9,362.3 1145.6,359.7 1147.3,357.0 1149.0,354.6 1151.3,351.9 1153.6,350.0 1155.8,347.3 1158.7,346.2 1161.5,344.3 1164.3,343.1 1168.5,342.6 1172.8,342.3 1175.8,342.0 1178.9,342.0 1182.0,341.9 1185.0,342.2 1188.1,342.3 1191.2,341.9 1194.2,342.0 1197.3,342.0 1200.4,342.5 1203.4,342.2 1206.5,342.2 1209.6,342.1 1212.6,342.3 1215.7,342.4 1218.8,342.3 1221.8,341.9 1224.9,342.2 1228.0,342.2 1231.0,341.9 1234.1,342.4 1237.2,342.1 1240.2,342.1 1243.3,342.3 1246.4,342.3 1249.4,342.2 1252.5,342.2" fill="none" stroke="#000000" stroke-width="3.8" stroke-linejoin="round" stroke-linecap="round"/>
<polyline points="782.1,406.4 785.1,406.1 788.2,406.0 791.2,405.8 794.3,406.1 797.3,406.0 800.3,406.1 803.4,406.0 806.4,405.8 809.4,405.8 812.5,405.9 815.5,405.8 818.6,406.3 821.6,406.2 824.6,405.9 827.7,406.2 830.7,406.2 833.7,405.8 836.8,406.3 839.8,405.9 842.9,406.4 845.9,405.8 848.9,406.0 852.0,405.9 855.0,406.4 858.4,406.7 861.8,407.0 865.2,408.0 868.7,409.5 870.9,412.0 873.2,413.8 875.5,416.7 877.7,419.8 879.9,423.0 882.1,426.0 883.8,428.5 885.5,431.4 887.2,433.5 888.9,436.1 891.2,438.8 893.4,441.7 895.7,445.0 898.5,446.5 901.3,448.9 904.2,450.7 907.6,452.8 911.1,454.4 914.5,456.1 917.3,457.9 920.2,459.1 923.0,460.9 925.3,463.0 927.5,465.1 929.8,467.2 933.1,470.5 936.1,470.4 939.1,470.5 942.2,470.3 945.2,470.1 948.2,470.2 951.2,470.4 954.2,470.4 957.3,470.1 960.3,470.1 963.3,470.3 966.3,470.0 969.4,470.5 972.4,469.9 975.4,470.3 978.4,470.2 981.4,470.0 984.5,470.2 987.5,470.2 990.5,470.5 993.5,470.5 996.5,470.3 999.6,470.5 1002.6,470.5 1005.6,470.0 1008.6,470.4 1011.6,470.4 1014.7,470.5 1017.7,470.4 1020.7,470.1 1023.7,470.0 1026.7,470.3 1029.8,470.0 1032.8,470.4 1035.8,470.3 1038.8,470.4 1041.9,470.1 1044.9,470.1 1047.9,470.5 1050.9,470.3 1053.9,470.1 1057.0,470.2 1060.0,470.2 1063.0,470.3 1066.0,470.2 1069.0,470.0 1072.6,469.5 1075.9,466.5 1078.5,464.3 1081.0,461.8 1083.9,459.7 1086.7,458.1 1089.5,456.2 1092.3,454.3 1095.2,452.3 1098.0,450.9 1100.2,448.5 1102.5,446.1 1104.8,444.0 1107.1,441.3 1109.3,438.9 1111.6,436.4 1113.3,434.0 1115.0,430.8 1116.7,428.5 1118.4,426.2 1121.8,423.4 1125.3,420.8 1128.1,418.4 1130.9,415.2 1133.7,413.2 1136.5,411.3 1139.4,409.6 1142.2,407.7 1145.6,407.2 1149.1,406.2 1152.5,405.8 1155.6,405.6 1158.6,406.1 1161.6,406.0 1164.7,405.8 1167.7,406.0 1170.7,405.8 1173.7,405.9 1176.8,405.6 1179.8,406.1 1182.8,406.1 1185.9,406.1 1188.9,405.6 1191.9,406.1 1194.9,405.6 1198.0,406.0 1201.0,405.9 1204.0,405.6 1207.1,405.9 1210.1,406.2 1213.1,406.1 1216.2,405.9 1219.2,406.2 1222.2,405.9 1225.2,406.3 1228.3,406.0 1231.3,405.7 1234.3,406.4 1237.4,405.8 1240.4,405.9 1243.4,406.3 1246.4,405.8 1249.5,406.1 1252.5,406.1" fill="none" stroke="#fa1a10" stroke-width="3.8" stroke-linejoin="round" stroke-linecap="round"/>
<polyline points="782.1,406.4 785.1,406.2 788.2,406.0 791.2,406.3 794.2,406.3 797.2,406.1 800.3,406.1 803.3,405.9 806.3,406.0 809.4,406.4 812.4,406.3 815.4,405.6 818.4,405.8 821.5,405.8 824.5,406.2 827.5,405.7 830.6,405.7 833.6,406.1 836.6,405.7 839.7,406.2 842.7,405.9 845.7,406.2 848.7,406.1 851.8,405.7 854.8,406.1 857.8,405.8 860.9,405.7 863.9,405.5 866.9,406.0 869.9,405.9 873.0,405.7 876.0,406.0 879.0,405.6 882.1,405.7 885.5,406.2 889.0,407.0 892.4,408.1 895.2,409.5 898.1,411.0 900.9,412.8 903.7,415.6 906.5,418.0 909.3,421.0 912.8,423.0 916.2,426.1 917.9,428.5 919.6,431.3 921.3,433.5 923.0,435.9 925.3,438.6 927.5,441.4 929.8,443.6 932.1,445.9 934.4,448.7 936.6,451.0 939.4,452.7 942.3,454.5 945.1,456.0 947.9,458.2 950.7,460.1 953.6,462.0 956.1,464.0 958.7,465.9 962.0,468.9 965.6,470.0 968.6,470.2 971.6,469.9 974.6,470.5 977.6,470.3 980.7,470.4 983.7,470.5 986.7,470.0 989.7,470.5 992.7,470.5 995.8,470.0 998.8,469.9 1001.8,470.4 1004.8,470.5 1007.9,470.4 1010.9,470.1 1013.9,470.3 1016.9,469.9 1019.9,470.0 1023.0,470.1 1026.0,470.4 1029.0,469.9 1032.0,470.5 1035.0,469.9 1038.1,470.5 1041.1,470.0 1044.1,470.4 1047.1,470.4 1050.1,470.5 1053.2,470.2 1056.2,470.3 1059.2,470.1 1062.2,470.4 1065.2,469.9 1068.3,470.5 1071.3,470.3 1074.3,469.9 1077.3,470.5 1080.4,470.1 1083.4,469.9 1086.4,470.0 1089.4,469.9 1092.4,470.0 1095.5,470.3 1098.5,470.5 1101.5,470.3 1104.8,467.4 1107.1,465.3 1109.3,463.3 1111.6,461.0 1114.4,459.2 1117.3,457.4 1120.1,456.0 1123.5,454.0 1127.0,452.7 1130.4,450.7 1133.3,448.8 1136.1,446.8 1138.9,444.8 1141.2,441.7 1143.4,438.9 1145.7,436.4 1147.4,433.4 1149.1,431.2 1150.8,428.8 1152.5,425.8 1154.7,423.0 1156.9,419.6 1159.1,416.7 1161.4,414.1 1163.7,412.0 1165.9,409.7 1169.4,408.0 1172.8,406.9 1176.2,406.6 1179.6,406.1 1182.6,406.2 1185.7,406.4 1188.7,406.3 1191.7,406.3 1194.8,405.9 1197.8,406.2 1200.9,406.2 1203.9,406.4 1206.9,405.8 1210.0,405.9 1213.0,406.4 1216.0,406.0 1219.1,406.2 1222.1,406.2 1225.2,406.0 1228.2,406.1 1231.2,406.1 1234.3,406.4 1237.3,406.1 1240.3,406.3 1243.4,406.0 1246.4,406.2 1249.5,406.2 1252.5,406.1" fill="none" stroke="#000000" stroke-width="3.8" stroke-linejoin="round" stroke-linecap="round"/>
<text x="1249.5" y="127.8" font-size="22.7" text-anchor="end" fill="#111">600 mK</text>
<text x="1249.5" y="191.5" font-size="22.7" text-anchor="end" fill="#111">550 mK</text>
<text x="1249.5" y="250.5" font-size="22.7" text-anchor="end" fill="#111">500 mK</text>
<text x="1249.5" y="315.0" font-size="22.7" text-anchor="end" fill="#111">450 mK</text>
<text x="1249.5" y="377.0" font-size="22.7" text-anchor="end" fill="#111">400 mK</text>
<text x="1249.5" y="446.0" font-size="22.7" text-anchor="end" fill="#111">350 mK</text>
<text x="780.9" y="509.8" font-size="31" text-anchor="middle" fill="#1a1a1a">-1</text>
<text x="898.5" y="509.8" font-size="31" text-anchor="middle" fill="#1a1a1a">-0.5</text>
<text x="1017.3" y="509.8" font-size="31" text-anchor="middle" fill="#1a1a1a">0</text>
<text x="1134.9" y="509.8" font-size="31" text-anchor="middle" fill="#1a1a1a">0.5</text>
<text x="1252.5" y="509.8" font-size="31" text-anchor="middle" fill="#1a1a1a">1</text>
<text x="1024.3" y="540.6" font-size="31.6" text-anchor="middle" fill="#1a1a1a"><tspan font-style="italic">B</tspan><tspan font-style="italic" font-size="23.5" dy="15.5">x</tspan><tspan dy="-15.5"> (T)</tspan></text>
<text transform="translate(743.5,263) rotate(-90)" font-size="30.5" text-anchor="middle" fill="#1a1a1a"><tspan font-style="italic">R</tspan> (<tspan font-family="'Liberation Serif', 'Times New Roman', serif" font-style="italic">Ω</tspan>)</text>
<text x="714.0" y="41.5" font-size="54" text-anchor="start" fill="#000" font-weight="bold">b</text>
</g>
<g id="panel-c">
<rect x="1411.4" y="53.2" width="501.3" height="418.8" fill="#f8ffd2"/>
<g clip-path="url(#clipC)">
<polygon points="1390.0,235.1 1411.7,235.1 1465.0,233.3 1504.0,229.9 1524.8,224.2 1530.0,218.3 1551.3,209.8 1572.6,198.0 1593.9,185.3 1615.2,171.4 1636.5,162.9 1662.0,156.5 1691.8,151.2 1713.1,160.8 1732.3,179.9 1753.6,197.0 1774.9,211.9 1800.0,222.5 1810.8,228.1 1842.0,232.0 1881.0,234.6 1912.7,235.9 1935.0,235.9 1935.0,297.3 1912.7,297.3 1888.8,300.2 1855.0,304.6 1816.0,314.0 1800.0,321.7 1777.0,332.3 1760.0,345.1 1745.1,360.0 1730.2,379.2 1713.1,400.5 1696.1,410.0 1679.1,409.0 1659.9,402.6 1642.9,394.1 1625.8,379.2 1610.9,362.1 1593.9,347.2 1572.6,334.4 1551.3,325.9 1530.0,319.5 1524.8,315.0 1491.0,307.2 1452.0,301.5 1411.7,297.3 1390.0,297.3" fill="#f7ff98" filter="url(#blC0)" opacity="1"/>
<polygon points="1390.0,246.1 1411.7,246.1 1465.0,244.3 1504.0,240.9 1524.8,235.2 1530.0,229.3 1551.3,220.8 1572.6,209.0 1593.9,196.3 1615.2,182.4 1636.5,173.9 1662.0,167.5 1691.8,162.2 1713.1,171.8 1732.3,190.9 1753.6,208.0 1774.9,222.9 1800.0,233.5 1810.8,239.1 1842.0,243.0 1881.0,245.6 1912.7,246.9 1935.0,246.9 1935.0,286.3 1912.7,286.3 1888.8,289.2 1855.0,293.6 1816.0,303.0 1800.0,310.7 1777.0,321.3 1760.0,334.1 1745.1,349.0 1730.2,368.2 1713.1,389.5 1696.1,399.0 1679.1,398.0 1659.9,391.6 1642.9,383.1 1625.8,368.2 1610.9,351.1 1593.9,336.2 1572.6,323.4 1551.3,314.9 1530.0,308.5 1524.8,304.0 1491.0,296.2 1452.0,290.5 1411.7,286.3 1390.0,286.3" fill="#f0ff38" filter="url(#blC1)" opacity="1"/>
<polygon points="1390.0,247.2 1411.7,247.2 1465.0,245.7 1504.0,243.6 1524.8,241.5 1530.0,241.1 1551.3,233.7 1572.6,223.0 1593.9,210.2 1615.2,197.5 1636.5,188.9 1662.0,181.5 1691.8,173.0 1702.5,182.6 1717.4,197.5 1734.4,212.4 1753.6,225.1 1774.9,234.7 1800.0,241.1 1816.0,243.1 1855.0,244.9 1912.7,246.7 1935.0,246.7 1935.0,273.5 1912.7,273.5 1888.8,274.8 1855.0,277.9 1816.0,283.1 1800.0,288.6 1785.5,293.9 1764.2,304.5 1747.2,317.3 1734.4,330.1 1721.6,347.1 1706.7,368.4 1691.8,379.1 1679.1,376.9 1659.9,368.4 1642.9,359.9 1625.8,345.0 1610.9,325.8 1593.9,310.9 1572.6,300.3 1551.3,291.8 1530.0,286.4 1524.8,285.7 1491.0,279.7 1452.0,276.6 1411.7,274.8 1390.0,274.8" fill="#ffa020" filter="url(#blC2)" opacity="1"/>
<polygon points="1390.0,252.7 1411.7,252.7 1465.0,251.2 1504.0,249.1 1524.8,247.0 1530.0,246.6 1551.3,239.2 1572.6,228.5 1593.9,215.7 1615.2,203.0 1636.5,194.4 1662.0,187.0 1691.8,178.5 1702.5,188.1 1717.4,203.0 1734.4,217.9 1753.6,230.6 1774.9,240.2 1800.0,246.6 1816.0,248.6 1855.0,250.4 1912.7,252.2 1935.0,252.2 1935.0,267.0 1912.7,267.0 1888.8,268.3 1855.0,271.4 1816.0,276.6 1800.0,282.1 1785.5,287.4 1764.2,298.0 1747.2,310.8 1734.4,323.6 1721.6,340.6 1706.7,361.9 1691.8,372.6 1679.1,370.4 1659.9,361.9 1642.9,353.4 1625.8,338.5 1610.9,319.3 1593.9,304.4 1572.6,293.8 1551.3,285.3 1530.0,279.9 1524.8,279.2 1491.0,273.2 1452.0,270.1 1411.7,268.3 1390.0,268.3" fill="#ff2a14" filter="url(#blC3)" opacity="1"/>
<polygon points="1584.9,243.5 1602.4,220.1 1615.2,211.6 1630.1,199.9 1649.2,195.7 1679.1,194.6 1691.8,197.8 1700.3,207.4 1713.1,215.9 1721.6,224.4 1743.4,243.5" fill="#b01810" filter="url(#blC5)"/>
<polygon points="1390.0,252.3 1411.7,252.3 1530.0,248.7 1660.0,246.3 1790.0,248.7 1912.7,251.8 1935.0,251.8 1935.0,269.1 1912.7,269.1 1868.0,271.5 1816.0,276.3 1800.0,275.9 1764.2,281.9 1734.4,289.7 1721.6,299.9 1706.7,308.4 1700.3,323.7 1668.4,326.5 1662.0,342.9 1649.2,334.0 1634.3,326.5 1625.8,316.9 1615.2,306.3 1600.3,295.5 1572.6,287.8 1551.3,281.9 1530.0,277.5 1491.0,275.0 1452.0,271.6 1411.7,269.6 1390.0,269.6" fill="#b01810" filter="url(#blC5)" opacity="1"/>
<polygon points="1593.9,241.5 1602.4,226.1 1615.2,217.6 1630.1,205.9 1649.2,201.7 1679.1,200.6 1691.8,203.8 1700.3,213.4 1713.1,221.9 1721.6,230.4 1734.4,241.5" fill="#6a0c0a" filter="url(#blC2)"/>
<polygon points="1390.0,252.2 1411.7,252.2 1530.0,248.4 1660.0,245.8 1790.0,248.3 1912.7,251.7 1935.0,251.7 1935.0,268.0 1912.7,268.0 1868.0,270.0 1816.0,273.5 1800.0,272.8 1764.2,277.9 1734.4,285.0 1721.6,294.9 1706.7,303.4 1700.3,318.7 1668.4,321.5 1662.0,337.9 1649.2,329.0 1634.3,321.5 1625.8,311.9 1615.2,301.3 1600.3,290.6 1572.6,283.5 1551.3,278.1 1530.0,274.2 1491.0,272.6 1452.0,270.1 1411.7,268.5 1390.0,268.5" fill="#6a0c0a" filter="url(#blC1)" opacity="1"/>
<polygon points="1390.0,252.5 1411.7,252.5 1530.0,249.3 1660.0,247.3 1790.0,249.4 1912.7,252.0 1935.0,252.0 1935.0,266.6 1912.7,266.6 1868.0,268.0 1816.0,270.0 1800.0,268.7 1764.2,272.7 1734.4,278.9 1721.6,288.4 1706.7,296.9 1700.3,312.2 1668.4,315.0 1662.0,331.4 1649.2,322.5 1634.3,315.0 1625.8,305.4 1615.2,294.8 1600.3,284.1 1572.6,278.0 1551.3,273.2 1530.0,270.0 1491.0,269.6 1452.0,268.3 1411.7,267.1 1390.0,267.1" fill="#100004" filter="url(#blC6)" opacity="1"/>
<polygon points="1599.9,243.5 1602.4,231.1 1615.2,222.6 1630.1,210.9 1649.2,206.7 1679.1,205.6 1691.8,208.8 1700.3,218.4 1713.1,226.9 1721.6,235.4 1728.4,243.5" fill="#1a0306" filter="url(#blC2)"/>
<line x1="1585" y1="245.4" x2="1745" y2="245.6" stroke="#a81a10" stroke-width="1.6" filter="url(#blC7)"/>
</g>
<text x="1661.0" y="224.5" font-size="16.3" text-anchor="middle" fill="#fff" font-weight="bold">SC-II</text>
<text x="1660.5" y="264.6" font-size="16.3" text-anchor="middle" fill="#fff" font-weight="bold">SC-I</text>
<line x1="1405.9" y1="155.3" x2="1411.4" y2="155.3" stroke="#555" stroke-width="1.2"/>
<text x="1397.8" y="166.3" font-size="27" text-anchor="end" fill="#1a1a1a">0.5</text>
<line x1="1405.9" y1="261.1" x2="1411.4" y2="261.1" stroke="#555" stroke-width="1.2"/>
<text x="1397.8" y="272.1" font-size="27" text-anchor="end" fill="#1a1a1a">0</text>
<line x1="1405.9" y1="366.9" x2="1411.4" y2="366.9" stroke="#555" stroke-width="1.2"/>
<text x="1397.8" y="377.9" font-size="27" text-anchor="end" fill="#1a1a1a">-0.5</text>
<line x1="1523.0" y1="472.0" x2="1523.0" y2="477.5" stroke="#555" stroke-width="1.2"/>
<text x="1523.0" y="513.4" font-size="26.5" text-anchor="middle" fill="#1a1a1a">-5</text>
<line x1="1662.4" y1="472.0" x2="1662.4" y2="477.5" stroke="#555" stroke-width="1.2"/>
<text x="1662.4" y="513.4" font-size="26.5" text-anchor="middle" fill="#1a1a1a">0</text>
<line x1="1801.8" y1="472.0" x2="1801.8" y2="477.5" stroke="#555" stroke-width="1.2"/>
<text x="1801.8" y="513.4" font-size="26.5" text-anchor="middle" fill="#1a1a1a">5</text>
<text transform="translate(1339.5,260.5) rotate(-90)" font-size="28" text-anchor="middle" fill="#1a1a1a"><tspan font-style="italic">B</tspan> (T)</text>
<text x="1650.5" y="560.3" font-size="29" fill="#1a1a1a" font-family="'Liberation Serif', 'Times New Roman', serif" font-style="italic">θ</text>
<text x="1663.6" y="546.2" font-size="26" fill="#444" font-family="'Liberation Serif', 'Times New Roman', serif">°</text>
<text x="1353.5" y="41.5" font-size="54" text-anchor="start" fill="#000" font-weight="bold">c</text>
<rect x="1926.8" y="49.5" width="29.3" height="422.0" fill="url(#gradC)" stroke="#222" stroke-width="1.3"/>
<line x1="1951.1" y1="470.3" x2="1956.1" y2="470.3" stroke="#222" stroke-width="1.2"/>
<text x="1964.5" y="478.5" font-size="22.5" text-anchor="start" fill="#1a1a1a">0</text>
<line x1="1951.1" y1="392.1" x2="1956.1" y2="392.1" stroke="#222" stroke-width="1.2"/>
<text x="1964.5" y="400.3" font-size="22.5" text-anchor="start" fill="#1a1a1a">0.2</text>
<line x1="1951.1" y1="313.9" x2="1956.1" y2="313.9" stroke="#222" stroke-width="1.2"/>
<text x="1964.5" y="322.1" font-size="22.5" text-anchor="start" fill="#1a1a1a">0.4</text>
<line x1="1951.1" y1="235.7" x2="1956.1" y2="235.7" stroke="#222" stroke-width="1.2"/>
<text x="1964.5" y="243.9" font-size="22.5" text-anchor="start" fill="#1a1a1a">0.6</text>
<line x1="1951.1" y1="157.5" x2="1956.1" y2="157.5" stroke="#222" stroke-width="1.2"/>
<text x="1964.5" y="165.7" font-size="22.5" text-anchor="start" fill="#1a1a1a">0.8</text>
<line x1="1951.1" y1="79.3" x2="1956.1" y2="79.3" stroke="#222" stroke-width="1.2"/>
<text x="1964.5" y="87.5" font-size="22.5" text-anchor="start" fill="#1a1a1a">1</text>
<text x="1945.3" y="38.0" font-size="24.3" text-anchor="middle" fill="#1a1a1a"><tspan font-style="italic">R</tspan> (Ω)</text>
</g>
<g id="panel-d">
<line x1="553" y1="613.3" x2="1640.6" y2="613.3" stroke="#bdbdbd" stroke-width="1.6"/>
<polygon points="330.4,743.5 548.5,614.6 549.5,901.3 330.2,1030.5" fill="#ff2926"/>
<g clip-path="url(#clipD0)">
<ellipse cx="410.5" cy="809.4" rx="28.7" ry="11.7" fill="#f2ac34" opacity="0.85" transform="rotate(-18 410.5 809.4)" filter="url(#dB7)"/>
<polygon points="390.3,839.2 405.2,832.0 426.5,821.8 447.8,812.2 477.6,799.0 468.0,817.5 452.0,845.2 432.9,870.7 411.6,896.3 390.3,918.7 377.5,930.4 383.9,917.6 398.8,896.3 411.6,870.7 420.1,849.4 424.3,834.5 415.8,837.1 405.2,840.5 392.4,843.5" fill="#fb8a2a" filter="url(#dB5)" opacity="0.95"/>
<polygon points="390.3,839.2 405.2,832.0 426.5,821.8 447.8,812.2 477.6,799.0 468.0,817.5 452.0,845.2 432.9,870.7 411.6,896.3 390.3,918.7 377.5,930.4 383.9,917.6 398.8,896.3 411.6,870.7 420.1,849.4 424.3,834.5 415.8,837.1 405.2,840.5 392.4,843.5" fill="#f8b030" filter="url(#dB3)" opacity="0.90"/>
<polygon points="405.2,832.8 426.5,822.2 447.8,812.6 476.5,799.6 465.2,817.5 449.5,844.1 432.0,867.5 418.4,882.4 411.1,879.7 418.0,862.2 422.2,847.3 424.8,834.5 415.8,836.7 406.2,839.2" fill="#f0ff3c" filter="url(#dB3)"/>
<ellipse cx="447.8" cy="820.1" rx="12.4" ry="6.4" fill="#ffffff" opacity="1.0" transform="rotate(-35 447.8 820.1)" filter="url(#dB3)"/>
<g clip-path="url(#clipDa0)"><polygon points="324.3,827.1 330.2,827.1 347.7,823.9 365.8,829.2 379.6,842.0 388.1,853.7 330.2,875.0 324.3,877.1" fill="#33201f" opacity="0.88" filter="url(#dB5)"/></g>
<g clip-path="url(#clipDb0)"><polygon points="305.1,883.7 330.2,872.4 413.7,836.7 409.9,851.6 400.9,870.7 390.3,889.9 377.5,909.1 362.6,928.2 347.7,943.1 330.2,957.6 305.1,982.8" fill="#2b2222" filter="url(#dB4)"/></g>
<line x1="328.5" y1="873.1" x2="416.3" y2="835.6" stroke="#ff3626" stroke-width="2.2" stroke-linecap="round" filter="url(#dB1)"/>
</g>
<polygon points="553.0,738.8 764.3,614.3 764.3,904.3 553.0,1028.8" fill="#ff2926"/>
<g clip-path="url(#clipD1)">
<ellipse cx="644.0" cy="801.5" rx="29.8" ry="11.7" fill="#f2ac34" opacity="0.75" transform="rotate(-18 644.0 801.5)" filter="url(#dB7)"/>
<polygon points="615.3,835.0 640.8,822.8 672.8,807.9 721.8,783.4 709.0,811.1 685.6,847.3 657.9,878.2 630.2,901.6 606.8,918.7 615.3,904.8 636.6,870.7 651.5,845.2 655.7,825.0 645.1,829.0 630.2,835.6 617.4,839.9" fill="#fb8a2a" filter="url(#dB5)" opacity="0.95"/>
<polygon points="615.3,835.0 640.8,822.8 672.8,807.9 721.8,783.4 709.0,811.1 685.6,847.3 657.9,878.2 630.2,901.6 606.8,918.7 615.3,904.8 636.6,870.7 651.5,845.2 655.7,825.0 645.1,829.0 630.2,835.6 617.4,839.9" fill="#f8b030" filter="url(#dB3)" opacity="0.90"/>
<polygon points="634.4,826.4 655.7,816.2 683.4,802.6 720.7,784.1 706.4,811.1 682.4,846.2 661.1,869.7 646.2,881.4 640.4,877.6 649.8,860.1 655.1,843.1 656.8,826.0 647.2,828.6 636.6,833.5" fill="#f0ff3c" filter="url(#dB3)"/>
<ellipse cx="686.6" cy="807.3" rx="12.8" ry="5.5" fill="#fbffc0" opacity="0.9" transform="rotate(-35 686.6 807.3)" filter="url(#dB3)"/>
<g clip-path="url(#clipDa1)"><polygon points="547.1,835.0 553.1,834.5 572.7,826.4 592.9,828.6 605.7,838.4 613.1,847.3 553.1,873.9 547.1,876.1" fill="#33201f" opacity="0.72" filter="url(#dB5)"/></g>
<g clip-path="url(#clipDb1)"><polygon points="530.1,881.5 553.1,871.2 645.1,828.1 638.7,849.4 628.1,870.7 615.3,892.0 598.2,913.3 572.7,934.6 553.1,949.5 530.1,972.5" fill="#2b2222" filter="url(#dB4)"/></g>
<line x1="551.4" y1="871.6" x2="647.6" y2="826.7" stroke="#ff3626" stroke-width="2.2" stroke-linecap="round" filter="url(#dB1)"/>
</g>
<polygon points="768.3,740.8 977.5,616.8 977.5,904.3 768.3,1028.0" fill="#ff2926"/>
<g clip-path="url(#clipD2)">
<ellipse cx="846.2" cy="812.2" rx="23.4" ry="9.4" fill="#f28e30" opacity="0.6" transform="rotate(-18 846.2 812.2)" filter="url(#dB7)"/>
<polygon points="823.9,842.0 849.4,830.3 879.3,815.4 924.0,791.9 910.1,821.8 885.2,849.4 859.0,876.1 838.4,896.3 821.8,911.6 827.7,902.7 846.2,872.9 860.5,849.4 866.5,829.2 853.7,833.9 840.9,839.2 826.0,845.2" fill="#fb8a2a" filter="url(#dB5)" opacity="0.95"/>
<polygon points="823.9,842.0 849.4,830.3 879.3,815.4 924.0,791.9 910.1,821.8 885.2,849.4 859.0,876.1 838.4,896.3 821.8,911.6 827.7,902.7 846.2,872.9 860.5,849.4 866.5,829.2 853.7,833.9 840.9,839.2 826.0,845.2" fill="#f8b030" filter="url(#dB3)" opacity="0.90"/>
<polygon points="847.3,833.5 866.5,823.5 892.0,810.3 924.0,792.6 909.1,818.6 889.9,842.0 872.9,862.2 862.2,870.7 856.9,866.5 863.3,851.6 867.5,838.8 868.2,829.2 856.9,833.5 847.7,838.4" fill="#f0ff3c" filter="url(#dB3)"/>
<ellipse cx="887.8" cy="817.1" rx="9.6" ry="4.3" fill="#f6ff80" opacity="0.7" transform="rotate(-35 887.8 817.1)" filter="url(#dB3)"/>
<g clip-path="url(#clipDa2)"><polygon points="762.6,844.1 768.5,843.5 785.6,836.2 801.5,836.7 810.7,843.5 817.5,852.6 768.5,876.7 762.6,879.3" fill="#33201f" opacity="0.6" filter="url(#dB5)"/></g>
<g clip-path="url(#clipDb2)"><polygon points="745.1,884.9 768.5,874.4 851.1,836.7 842.0,855.4 829.8,872.9 815.4,889.9 800.9,906.5 786.4,923.1 769.6,941.4 745.1,965.9" fill="#2b2222" filter="url(#dB4)"/></g>
<line x1="766.4" y1="875.2" x2="852.0" y2="835.6" stroke="#ff3626" stroke-width="2.2" stroke-linecap="round" filter="url(#dB1)"/>
</g>
<polygon points="987.0,739.3 1198.0,613.8 1198.0,904.3 987.0,1029.3" fill="#ff2926"/>
<g clip-path="url(#clipD3)">
<ellipse cx="1051.3" cy="823.9" rx="8.5" ry="3.0" fill="#f28a30" opacity="0.35" transform="rotate(-18 1051.3 823.9)" filter="url(#dB7)"/>
<polygon points="1046.0,843.5 1065.2,834.5 1090.7,821.8 1133.3,799.4 1119.5,823.9 1099.3,847.3 1078.0,870.7 1058.8,887.8 1043.9,901.0 1048.1,892.0 1056.7,875.0 1069.4,853.7 1073.7,835.6 1060.9,842.0 1048.1,846.9" fill="#fb8a2a" filter="url(#dB5)" opacity="0.95"/>
<polygon points="1046.0,843.5 1065.2,834.5 1090.7,821.8 1133.3,799.4 1119.5,823.9 1099.3,847.3 1078.0,870.7 1058.8,887.8 1043.9,901.0 1048.1,892.0 1056.7,875.0 1069.4,853.7 1073.7,835.6 1060.9,842.0 1048.1,846.9" fill="#f8b030" filter="url(#dB3)" opacity="0.90"/>
<polygon points="1073.7,830.7 1095.0,820.1 1131.6,800.5 1118.4,823.9 1099.3,846.2 1082.2,862.2 1073.7,860.1 1080.1,845.2 1081.8,833.5" fill="#f4e23a" filter="url(#dB3)"/>
<ellipse cx="1093.9" cy="826.0" rx="13.2" ry="6.4" fill="#f0ff3c" opacity="1.0" transform="rotate(-35 1093.9 826.0)" filter="url(#dB3)"/>
<g clip-path="url(#clipDa3)"><polygon points="981.5,849.4 987.5,848.4 1001.3,844.8 1013.0,847.7 1020.5,856.9 987.5,879.3 981.5,881.8" fill="#33201f" opacity="0.35" filter="url(#dB5)"/></g>
<g clip-path="url(#clipDb3)"><polygon points="965.1,887.6 987.5,877.6 1056.7,846.0 1048.1,863.3 1036.2,877.6 1021.7,894.4 1007.3,911.2 988.1,932.7 965.1,955.7" fill="#2b2222" filter="url(#dB4)"/></g>
<line x1="985.3" y1="878.4" x2="1057.1" y2="845.2" stroke="#ff3626" stroke-width="2.2" stroke-linecap="round" filter="url(#dB1)"/>
</g>
<polygon points="1200.5,740.8 1410.8,615.5 1410.8,904.3 1200.5,1028.8" fill="#ff2926"/>
<g clip-path="url(#clipD4)">
<polygon points="1251.8,849.0 1270.9,839.9 1292.2,829.2 1326.3,813.2 1314.6,832.4 1295.4,850.5 1274.1,870.7 1251.8,894.6 1253.9,887.8 1258.6,875.0 1267.1,858.0 1271.3,844.1 1262.4,846.0 1253.9,850.9" fill="#fb8a2a" filter="url(#dB5)" opacity="0.57"/>
<polygon points="1251.8,849.0 1270.9,839.9 1292.2,829.2 1326.3,813.2 1314.6,832.4 1295.4,850.5 1274.1,870.7 1251.8,894.6 1253.9,887.8 1258.6,875.0 1267.1,858.0 1271.3,844.1 1262.4,846.0 1253.9,850.9" fill="#f8b030" filter="url(#dB3)" opacity="0.54"/>
<polygon points="1275.2,838.4 1296.5,827.7 1324.6,814.3 1313.5,832.0 1296.5,849.4 1283.7,859.0 1277.3,856.9 1280.5,846.2" fill="#f6b634" filter="url(#dB3)"/>
<ellipse cx="1290.1" cy="836.2" rx="11.1" ry="5.1" fill="#e8f040" opacity="0.95" transform="rotate(-35 1290.1 836.2)" filter="url(#dB3)"/>
<polygon points="1175.1,893.7 1200.2,878.4 1232.6,861.8 1253.9,853.7 1253.0,866.5 1245.8,879.3 1235.8,893.1 1223.6,909.1 1200.9,930.4 1175.1,958.0" fill="#2b2222" filter="url(#dB3)" opacity="0.97"/>
</g>
<polygon points="1420.0,744.4 1639.7,614.5 1640.5,898.8 1419.8,1030.3" fill="#ff2926"/>
<g clip-path="url(#clipD5)">
<polygon points="1401.5,887.8 1420.4,879.9 1439.6,871.6 1456.4,869.9 1454.1,882.4 1441.9,899.3 1427.7,916.1 1420.4,925.7 1401.5,943.1" fill="#382024" filter="url(#dB4)" opacity="0.9"/>
<polygon points="1473.2,860.7 1497.3,843.9 1518.8,835.6 1514.1,848.8 1494.8,865.6 1473.2,879.9" fill="#ff5e28" filter="url(#dB4)" opacity="0.95"/>
</g>
<line x1="330.4" y1="744.3" x2="1420.8" y2="744.3" stroke="#c4c4c4" stroke-width="1.5"/>
<line x1="330.4" y1="743.5" x2="553.3" y2="612.8" stroke="#000" stroke-width="2.2"/>
<line x1="330.2" y1="1030.5" x2="550.5" y2="900.8" stroke="#000" stroke-width="2.2"/>
<line x1="330.2" y1="743" x2="330.2" y2="1031.5" stroke="#000" stroke-width="2"/>
<line x1="317" y1="1031.2" x2="1420.5" y2="1031.2" stroke="#000" stroke-width="2"/>
<line x1="1419.8" y1="1030.6" x2="1640.7" y2="898.6" stroke="#000" stroke-width="2.2"/>
<line x1="1640.7" y1="612.5" x2="1640.7" y2="899.5" stroke="#000" stroke-width="2.2"/>
<line x1="317.7" y1="743.8" x2="330.2" y2="743.8" stroke="#000" stroke-width="1.8"/>
<line x1="324.2" y1="815.6" x2="330.2" y2="815.6" stroke="#000" stroke-width="1.8"/>
<line x1="317.7" y1="887.4" x2="330.2" y2="887.4" stroke="#000" stroke-width="1.8"/>
<line x1="324.2" y1="959.2" x2="330.2" y2="959.2" stroke="#000" stroke-width="1.8"/>
<line x1="317.7" y1="1031.0" x2="330.2" y2="1031.0" stroke="#000" stroke-width="1.8"/>
<text x="300.5" y="757.2" font-size="27" text-anchor="end" fill="#1a1a1a">1</text>
<text x="301.8" y="896.0" font-size="27" text-anchor="end" fill="#1a1a1a">0</text>
<text x="303.0" y="1040.0" font-size="27" text-anchor="end" fill="#1a1a1a">-1</text>
<line x1="552.8" y1="1031.2" x2="545.8" y2="1037.8" stroke="#000" stroke-width="1.8"/>
<line x1="768.0" y1="1031.2" x2="761.0" y2="1037.8" stroke="#000" stroke-width="1.8"/>
<line x1="987.0" y1="1031.2" x2="980.0" y2="1037.8" stroke="#000" stroke-width="1.8"/>
<line x1="1200.3" y1="1031.2" x2="1193.3" y2="1037.8" stroke="#000" stroke-width="1.8"/>
<line x1="1419.8" y1="1031.2" x2="1412.8" y2="1037.8" stroke="#000" stroke-width="1.8"/>
<text x="323.1" y="1070.0" font-size="27" text-anchor="middle" fill="#1a1a1a">400</text>
<text x="535.1" y="1070.0" font-size="27" text-anchor="middle" fill="#1a1a1a">450</text>
<text x="756.8" y="1070.0" font-size="27" text-anchor="middle" fill="#1a1a1a">500</text>
<text x="974.2" y="1070.0" font-size="27" text-anchor="middle" fill="#1a1a1a">550</text>
<text x="1189.0" y="1070.0" font-size="27" text-anchor="middle" fill="#1a1a1a">600</text>
<text x="1403.8" y="1070.0" font-size="27" text-anchor="middle" fill="#1a1a1a">650</text>
<text x="875.7" y="1117.6" font-size="30" text-anchor="middle" fill="#1a1a1a"><tspan font-style="italic">T</tspan> (mK)</text>
<text transform="translate(250.5,880.6) rotate(-90)" font-size="29.5" text-anchor="middle" fill="#1a1a1a"><tspan font-style="italic">B</tspan><tspan font-style="italic" font-size="20" dy="6">x</tspan><tspan dy="-6"> (T)</tspan></text>
<text x="239.0" y="629.0" font-size="54" text-anchor="start" fill="#000" font-weight="bold">d</text>
<text x="336.3" y="846.2" font-size="15.8" text-anchor="start" fill="#fff" font-weight="bold">SC-II</text>
<text x="336.3" y="895.9" font-size="15.8" text-anchor="start" fill="#fff" font-weight="bold">SC-I</text>
<line x1="1419.8" y1="1030.6" x2="1431.3" y2="1030.6" stroke="#000" stroke-width="1.8"/>
<line x1="1479.4" y1="995.0" x2="1486.4" y2="995.0" stroke="#000" stroke-width="1.8"/>
<line x1="1540.9" y1="958.3" x2="1552.9" y2="958.3" stroke="#000" stroke-width="1.8"/>
<line x1="1603.1" y1="921.0" x2="1610.1" y2="921.0" stroke="#000" stroke-width="1.8"/>
<line x1="1640.7" y1="898.6" x2="1650.7" y2="898.6" stroke="#000" stroke-width="1.8"/>
<text x="1455.8" y="1043.2" font-size="27" text-anchor="middle" fill="#1a1a1a">0</text>
<text x="1572.6" y="972.0" font-size="27" text-anchor="middle" fill="#1a1a1a">5</text>
<text x="1670.3" y="908.6" font-size="27" text-anchor="middle" fill="#1a1a1a">10</text>
<text transform="translate(1608.0,984.5) rotate(-45)" font-size="28.5" text-anchor="middle" fill="#1a1a1a">I (μA)</text>
<rect x="1719.4" y="608.2" width="31.4" height="390.8" fill="url(#gradD)" stroke="#9a9a9a" stroke-width="1.2"/>
<text x="1758.8" y="1008.2" font-size="21.7" text-anchor="start" fill="#1a1a1a">0</text>
<line x1="1746.3" y1="937.8" x2="1750.8" y2="937.8" stroke="#555" stroke-width="1.1"/>
<text x="1758.8" y="947.0" font-size="21.7" text-anchor="start" fill="#1a1a1a">0.5</text>
<line x1="1746.3" y1="876.6" x2="1750.8" y2="876.6" stroke="#555" stroke-width="1.1"/>
<text x="1758.8" y="885.9" font-size="21.7" text-anchor="start" fill="#1a1a1a">1</text>
<line x1="1746.3" y1="815.5" x2="1750.8" y2="815.5" stroke="#555" stroke-width="1.1"/>
<text x="1758.8" y="824.7" font-size="21.7" text-anchor="start" fill="#1a1a1a">1.5</text>
<line x1="1746.3" y1="754.3" x2="1750.8" y2="754.3" stroke="#555" stroke-width="1.1"/>
<text x="1758.8" y="763.5" font-size="21.7" text-anchor="start" fill="#1a1a1a">2</text>
<line x1="1746.3" y1="693.1" x2="1750.8" y2="693.1" stroke="#555" stroke-width="1.1"/>
<text x="1758.8" y="702.3" font-size="21.7" text-anchor="start" fill="#1a1a1a">2.5</text>
<line x1="1746.3" y1="632.0" x2="1750.8" y2="632.0" stroke="#555" stroke-width="1.1"/>
<text x="1758.8" y="641.2" font-size="21.7" text-anchor="start" fill="#1a1a1a">3</text>
<text x="1740.8" y="595.7" font-size="24.3" text-anchor="middle" fill="#1a1a1a">d<tspan font-style="italic">V</tspan>/d<tspan font-style="italic">I</tspan> (Ω)</text>
</g>
</svg>
</body></html>
